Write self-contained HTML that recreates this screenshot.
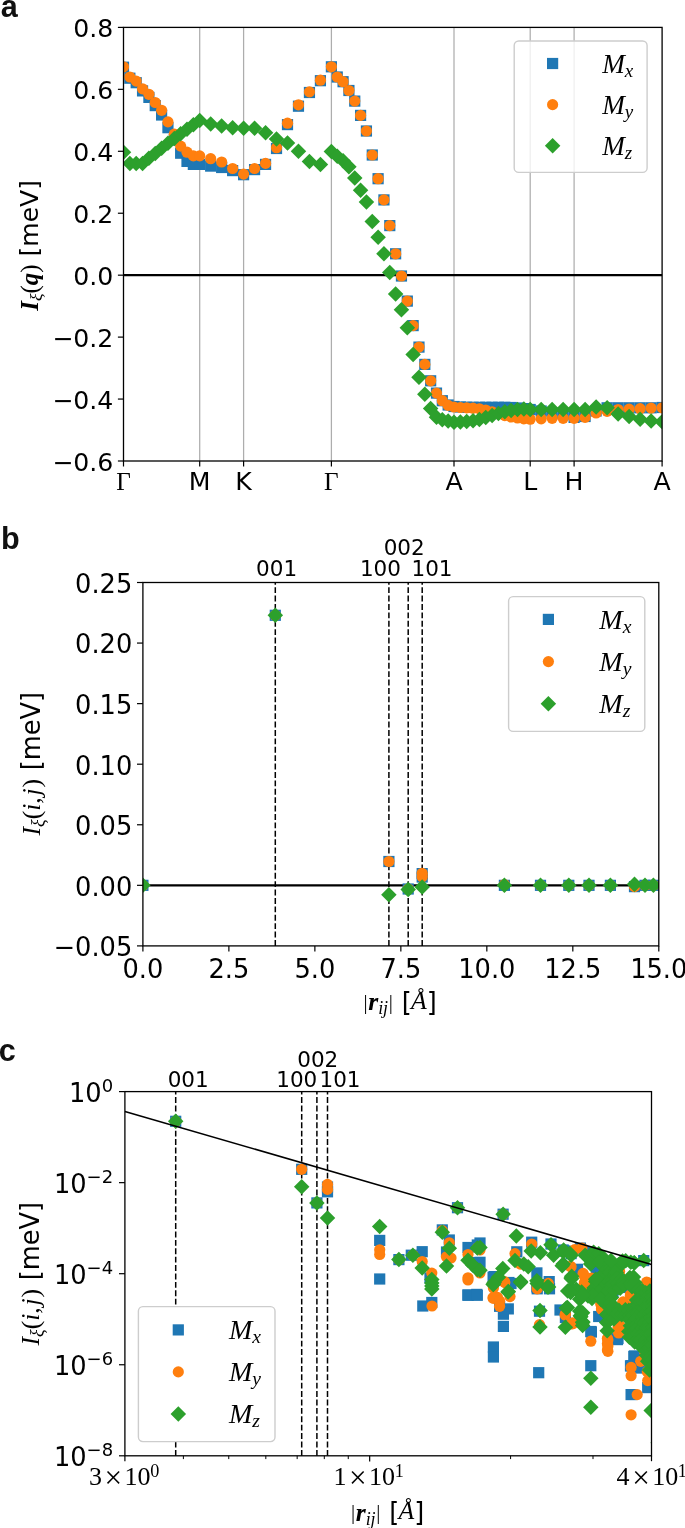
<!DOCTYPE html>
<html lang="en"><head><meta charset="utf-8"><title>Figure</title>
<style>html,body{margin:0;padding:0;background:#fff}svg{display:block}</style>
</head><body>
<svg width="685" height="1528" viewBox="0 0 685 1528">
<rect width="685" height="1528" fill="#fff"/>
<text x="0.8" y="16.8" font-family='"Liberation Sans","DejaVu Sans",sans-serif' font-size="30.6" text-anchor="start" font-weight="bold" fill="#111">a</text>
<text x="1" y="549.3" font-family='"Liberation Sans","DejaVu Sans",sans-serif' font-size="30.6" text-anchor="start" font-weight="bold" fill="#111">b</text>
<text x="-1.3" y="1060.6" font-family='"Liberation Sans","DejaVu Sans",sans-serif' font-size="30.6" text-anchor="start" font-weight="bold" fill="#111">c</text>
<clipPath id="clipA"><rect x="123.5" y="27.4" width="538.6" height="433.6"/></clipPath>
<line x1="199.7" y1="27.4" x2="199.7" y2="461" stroke="#adadad" stroke-width="1.25"/>
<line x1="243.6" y1="27.4" x2="243.6" y2="461" stroke="#adadad" stroke-width="1.25"/>
<line x1="331.4" y1="27.4" x2="331.4" y2="461" stroke="#adadad" stroke-width="1.25"/>
<line x1="454" y1="27.4" x2="454" y2="461" stroke="#adadad" stroke-width="1.25"/>
<line x1="530.2" y1="27.4" x2="530.2" y2="461" stroke="#adadad" stroke-width="1.25"/>
<line x1="574.1" y1="27.4" x2="574.1" y2="461" stroke="#adadad" stroke-width="1.25"/>
<line x1="123.5" y1="275.17" x2="662.1" y2="275.17" stroke="#000" stroke-width="2.1"/>
<g clip-path="url(#clipA)">
<rect x="117.9" y="61.6" width="11.2" height="11.2" fill="#1f77b4"/><rect x="124.25" y="72.6" width="11.2" height="11.2" fill="#1f77b4"/><rect x="130.6" y="77.1" width="11.2" height="11.2" fill="#1f77b4"/><rect x="136.95" y="85.3" width="11.2" height="11.2" fill="#1f77b4"/><rect x="143.3" y="91.8" width="11.2" height="11.2" fill="#1f77b4"/><rect x="149.65" y="100" width="11.2" height="11.2" fill="#1f77b4"/><rect x="156" y="109.4" width="11.2" height="11.2" fill="#1f77b4"/><rect x="162.35" y="122.1" width="11.2" height="11.2" fill="#1f77b4"/><rect x="168.7" y="134.4" width="11.2" height="11.2" fill="#1f77b4"/><rect x="175.05" y="147.6" width="11.2" height="11.2" fill="#1f77b4"/><rect x="181.4" y="155.8" width="11.2" height="11.2" fill="#1f77b4"/><rect x="187.75" y="158.8" width="11.2" height="11.2" fill="#1f77b4"/><rect x="194.1" y="158.8" width="11.2" height="11.2" fill="#1f77b4"/><rect x="205.07" y="160.5" width="11.2" height="11.2" fill="#1f77b4"/><rect x="216.05" y="161.9" width="11.2" height="11.2" fill="#1f77b4"/><rect x="227.03" y="165" width="11.2" height="11.2" fill="#1f77b4"/><rect x="238" y="169.1" width="11.2" height="11.2" fill="#1f77b4"/><rect x="248.97" y="164" width="11.2" height="11.2" fill="#1f77b4"/><rect x="259.95" y="158.8" width="11.2" height="11.2" fill="#1f77b4"/><rect x="270.92" y="142.9" width="11.2" height="11.2" fill="#1f77b4"/><rect x="281.9" y="119" width="11.2" height="11.2" fill="#1f77b4"/><rect x="292.87" y="100.6" width="11.2" height="11.2" fill="#1f77b4"/><rect x="303.85" y="86.9" width="11.2" height="11.2" fill="#1f77b4"/><rect x="314.82" y="75.1" width="11.2" height="11.2" fill="#1f77b4"/><rect x="325.8" y="61.2" width="11.2" height="11.2" fill="#1f77b4"/><rect x="331.64" y="71.4" width="11.2" height="11.2" fill="#1f77b4"/><rect x="337.48" y="76.1" width="11.2" height="11.2" fill="#1f77b4"/><rect x="343.31" y="84.9" width="11.2" height="11.2" fill="#1f77b4"/><rect x="349.15" y="95.5" width="11.2" height="11.2" fill="#1f77b4"/><rect x="354.99" y="109.8" width="11.2" height="11.2" fill="#1f77b4"/><rect x="360.83" y="125.4" width="11.2" height="11.2" fill="#1f77b4"/><rect x="366.67" y="149.4" width="11.2" height="11.2" fill="#1f77b4"/><rect x="372.5" y="173.1" width="11.2" height="11.2" fill="#1f77b4"/><rect x="378.34" y="194.3" width="11.2" height="11.2" fill="#1f77b4"/><rect x="384.18" y="220" width="11.2" height="11.2" fill="#1f77b4"/><rect x="390.02" y="248.2" width="11.2" height="11.2" fill="#1f77b4"/><rect x="395.86" y="270.4" width="11.2" height="11.2" fill="#1f77b4"/><rect x="401.7" y="295.5" width="11.2" height="11.2" fill="#1f77b4"/><rect x="407.53" y="320" width="11.2" height="11.2" fill="#1f77b4"/><rect x="413.37" y="341.5" width="11.2" height="11.2" fill="#1f77b4"/><rect x="419.21" y="358.8" width="11.2" height="11.2" fill="#1f77b4"/><rect x="425.05" y="375.2" width="11.2" height="11.2" fill="#1f77b4"/><rect x="430.89" y="387.5" width="11.2" height="11.2" fill="#1f77b4"/><rect x="436.72" y="395.1" width="11.2" height="11.2" fill="#1f77b4"/><rect x="442.56" y="399.4" width="11.2" height="11.2" fill="#1f77b4"/><rect x="448.4" y="400.9" width="11.2" height="11.2" fill="#1f77b4"/><rect x="454.75" y="401.4" width="11.2" height="11.2" fill="#1f77b4"/><rect x="461.1" y="401.6" width="11.2" height="11.2" fill="#1f77b4"/><rect x="467.45" y="401.7" width="11.2" height="11.2" fill="#1f77b4"/><rect x="473.8" y="401.7" width="11.2" height="11.2" fill="#1f77b4"/><rect x="480.15" y="401.7" width="11.2" height="11.2" fill="#1f77b4"/><rect x="486.5" y="401.7" width="11.2" height="11.2" fill="#1f77b4"/><rect x="492.85" y="401.7" width="11.2" height="11.2" fill="#1f77b4"/><rect x="499.2" y="401.7" width="11.2" height="11.2" fill="#1f77b4"/><rect x="505.55" y="401.9" width="11.2" height="11.2" fill="#1f77b4"/><rect x="511.9" y="402.4" width="11.2" height="11.2" fill="#1f77b4"/><rect x="518.25" y="403" width="11.2" height="11.2" fill="#1f77b4"/><rect x="524.6" y="403.9" width="11.2" height="11.2" fill="#1f77b4"/><rect x="535.58" y="405.4" width="11.2" height="11.2" fill="#1f77b4"/><rect x="546.55" y="407.4" width="11.2" height="11.2" fill="#1f77b4"/><rect x="557.52" y="408.4" width="11.2" height="11.2" fill="#1f77b4"/><rect x="568.5" y="411.8" width="11.2" height="11.2" fill="#1f77b4"/><rect x="579.5" y="410.9" width="11.2" height="11.2" fill="#1f77b4"/><rect x="590.5" y="405.4" width="11.2" height="11.2" fill="#1f77b4"/><rect x="601.5" y="402.2" width="11.2" height="11.2" fill="#1f77b4"/><rect x="612.5" y="402.2" width="11.2" height="11.2" fill="#1f77b4"/><rect x="623.5" y="402.2" width="11.2" height="11.2" fill="#1f77b4"/><rect x="634.5" y="402.2" width="11.2" height="11.2" fill="#1f77b4"/><rect x="645.5" y="402.2" width="11.2" height="11.2" fill="#1f77b4"/><rect x="656.5" y="401.9" width="11.2" height="11.2" fill="#1f77b4"/>
<circle cx="123.5" cy="66.8" r="5.6" fill="#ff7f0e"/><circle cx="129.85" cy="77" r="5.6" fill="#ff7f0e"/><circle cx="136.2" cy="81.1" r="5.6" fill="#ff7f0e"/><circle cx="142.55" cy="88.8" r="5.6" fill="#ff7f0e"/><circle cx="148.9" cy="94.3" r="5.6" fill="#ff7f0e"/><circle cx="155.25" cy="102.5" r="5.6" fill="#ff7f0e"/><circle cx="161.6" cy="110.3" r="5.6" fill="#ff7f0e"/><circle cx="167.95" cy="121.9" r="5.6" fill="#ff7f0e"/><circle cx="174.3" cy="134.2" r="5.6" fill="#ff7f0e"/><circle cx="180.65" cy="146.1" r="5.6" fill="#ff7f0e"/><circle cx="187" cy="152.2" r="5.6" fill="#ff7f0e"/><circle cx="193.35" cy="155.9" r="5.6" fill="#ff7f0e"/><circle cx="199.7" cy="155.9" r="5.6" fill="#ff7f0e"/><circle cx="210.67" cy="158.7" r="5.6" fill="#ff7f0e"/><circle cx="221.65" cy="162" r="5.6" fill="#ff7f0e"/><circle cx="232.62" cy="168.5" r="5.6" fill="#ff7f0e"/><circle cx="243.6" cy="174.1" r="5.6" fill="#ff7f0e"/><circle cx="254.57" cy="168.5" r="5.6" fill="#ff7f0e"/><circle cx="265.55" cy="163.4" r="5.6" fill="#ff7f0e"/><circle cx="276.52" cy="147.7" r="5.6" fill="#ff7f0e"/><circle cx="287.5" cy="123.2" r="5.6" fill="#ff7f0e"/><circle cx="298.47" cy="104.8" r="5.6" fill="#ff7f0e"/><circle cx="309.45" cy="91.9" r="5.6" fill="#ff7f0e"/><circle cx="320.42" cy="80.2" r="5.6" fill="#ff7f0e"/><circle cx="331.4" cy="66.8" r="5.6" fill="#ff7f0e"/><circle cx="337.24" cy="77" r="5.6" fill="#ff7f0e"/><circle cx="343.08" cy="81.7" r="5.6" fill="#ff7f0e"/><circle cx="348.91" cy="90.5" r="5.6" fill="#ff7f0e"/><circle cx="354.75" cy="101.1" r="5.6" fill="#ff7f0e"/><circle cx="360.59" cy="115.4" r="5.6" fill="#ff7f0e"/><circle cx="366.43" cy="131" r="5.6" fill="#ff7f0e"/><circle cx="372.27" cy="155" r="5.6" fill="#ff7f0e"/><circle cx="378.1" cy="178.7" r="5.6" fill="#ff7f0e"/><circle cx="383.94" cy="199.9" r="5.6" fill="#ff7f0e"/><circle cx="389.78" cy="225.6" r="5.6" fill="#ff7f0e"/><circle cx="395.62" cy="253.8" r="5.6" fill="#ff7f0e"/><circle cx="401.46" cy="276" r="5.6" fill="#ff7f0e"/><circle cx="407.3" cy="301.1" r="5.6" fill="#ff7f0e"/><circle cx="413.13" cy="325.6" r="5.6" fill="#ff7f0e"/><circle cx="418.97" cy="347.1" r="5.6" fill="#ff7f0e"/><circle cx="424.81" cy="364.4" r="5.6" fill="#ff7f0e"/><circle cx="430.65" cy="380.8" r="5.6" fill="#ff7f0e"/><circle cx="436.49" cy="393.1" r="5.6" fill="#ff7f0e"/><circle cx="442.32" cy="400.7" r="5.6" fill="#ff7f0e"/><circle cx="448.16" cy="405.4" r="5.6" fill="#ff7f0e"/><circle cx="454" cy="407" r="5.6" fill="#ff7f0e"/><circle cx="460.35" cy="407.5" r="5.6" fill="#ff7f0e"/><circle cx="466.7" cy="407.8" r="5.6" fill="#ff7f0e"/><circle cx="473.05" cy="408.2" r="5.6" fill="#ff7f0e"/><circle cx="479.4" cy="408.8" r="5.6" fill="#ff7f0e"/><circle cx="485.75" cy="410" r="5.6" fill="#ff7f0e"/><circle cx="492.1" cy="411.8" r="5.6" fill="#ff7f0e"/><circle cx="498.45" cy="413.8" r="5.6" fill="#ff7f0e"/><circle cx="504.8" cy="415.6" r="5.6" fill="#ff7f0e"/><circle cx="511.15" cy="417" r="5.6" fill="#ff7f0e"/><circle cx="517.5" cy="418" r="5.6" fill="#ff7f0e"/><circle cx="523.85" cy="418.8" r="5.6" fill="#ff7f0e"/><circle cx="530.2" cy="419.2" r="5.6" fill="#ff7f0e"/><circle cx="541.18" cy="418.8" r="5.6" fill="#ff7f0e"/><circle cx="552.15" cy="418.3" r="5.6" fill="#ff7f0e"/><circle cx="563.12" cy="418.3" r="5.6" fill="#ff7f0e"/><circle cx="574.1" cy="418.3" r="5.6" fill="#ff7f0e"/><circle cx="585.1" cy="417.4" r="5.6" fill="#ff7f0e"/><circle cx="596.1" cy="413" r="5.6" fill="#ff7f0e"/><circle cx="607.1" cy="411.3" r="5.6" fill="#ff7f0e"/><circle cx="618.1" cy="409.5" r="5.6" fill="#ff7f0e"/><circle cx="629.1" cy="409.2" r="5.6" fill="#ff7f0e"/><circle cx="640.1" cy="408.7" r="5.6" fill="#ff7f0e"/><circle cx="651.1" cy="408.1" r="5.6" fill="#ff7f0e"/><circle cx="662.1" cy="407.8" r="5.6" fill="#ff7f0e"/>
<path d="M123.5 144.45l7.75 7.75l-7.75 7.75l-7.75 -7.75z" fill="#2ca02c"/><path d="M129.85 155.65l7.75 7.75l-7.75 7.75l-7.75 -7.75z" fill="#2ca02c"/><path d="M136.2 155.65l7.75 7.75l-7.75 7.75l-7.75 -7.75z" fill="#2ca02c"/><path d="M142.55 155.65l7.75 7.75l-7.75 7.75l-7.75 -7.75z" fill="#2ca02c"/><path d="M148.9 150.45l7.75 7.75l-7.75 7.75l-7.75 -7.75z" fill="#2ca02c"/><path d="M155.25 145.65l7.75 7.75l-7.75 7.75l-7.75 -7.75z" fill="#2ca02c"/><path d="M161.6 140.55l7.75 7.75l-7.75 7.75l-7.75 -7.75z" fill="#2ca02c"/><path d="M167.95 135.45l7.75 7.75l-7.75 7.75l-7.75 -7.75z" fill="#2ca02c"/><path d="M174.3 130.65l7.75 7.75l-7.75 7.75l-7.75 -7.75z" fill="#2ca02c"/><path d="M180.65 126.05l7.75 7.75l-7.75 7.75l-7.75 -7.75z" fill="#2ca02c"/><path d="M187 121.55l7.75 7.75l-7.75 7.75l-7.75 -7.75z" fill="#2ca02c"/><path d="M193.35 117.05l7.75 7.75l-7.75 7.75l-7.75 -7.75z" fill="#2ca02c"/><path d="M199.7 112.75l7.75 7.75l-7.75 7.75l-7.75 -7.75z" fill="#2ca02c"/><path d="M210.67 116.25l7.75 7.75l-7.75 7.75l-7.75 -7.75z" fill="#2ca02c"/><path d="M221.65 118.25l7.75 7.75l-7.75 7.75l-7.75 -7.75z" fill="#2ca02c"/><path d="M232.62 119.95l7.75 7.75l-7.75 7.75l-7.75 -7.75z" fill="#2ca02c"/><path d="M243.6 120.55l7.75 7.75l-7.75 7.75l-7.75 -7.75z" fill="#2ca02c"/><path d="M254.57 120.55l7.75 7.75l-7.75 7.75l-7.75 -7.75z" fill="#2ca02c"/><path d="M265.55 125.05l7.75 7.75l-7.75 7.75l-7.75 -7.75z" fill="#2ca02c"/><path d="M276.52 131.15l7.75 7.75l-7.75 7.75l-7.75 -7.75z" fill="#2ca02c"/><path d="M287.5 135.25l7.75 7.75l-7.75 7.75l-7.75 -7.75z" fill="#2ca02c"/><path d="M298.47 143.45l7.75 7.75l-7.75 7.75l-7.75 -7.75z" fill="#2ca02c"/><path d="M309.45 153.65l7.75 7.75l-7.75 7.75l-7.75 -7.75z" fill="#2ca02c"/><path d="M320.42 156.65l7.75 7.75l-7.75 7.75l-7.75 -7.75z" fill="#2ca02c"/><path d="M331.4 143.85l7.75 7.75l-7.75 7.75l-7.75 -7.75z" fill="#2ca02c"/><path d="M337.24 148.45l7.75 7.75l-7.75 7.75l-7.75 -7.75z" fill="#2ca02c"/><path d="M343.08 152.95l7.75 7.75l-7.75 7.75l-7.75 -7.75z" fill="#2ca02c"/><path d="M348.91 159.05l7.75 7.75l-7.75 7.75l-7.75 -7.75z" fill="#2ca02c"/><path d="M354.75 170.25l7.75 7.75l-7.75 7.75l-7.75 -7.75z" fill="#2ca02c"/><path d="M360.59 182.55l7.75 7.75l-7.75 7.75l-7.75 -7.75z" fill="#2ca02c"/><path d="M366.43 194.15l7.75 7.75l-7.75 7.75l-7.75 -7.75z" fill="#2ca02c"/><path d="M372.27 213.65l7.75 7.75l-7.75 7.75l-7.75 -7.75z" fill="#2ca02c"/><path d="M378.1 229.55l7.75 7.75l-7.75 7.75l-7.75 -7.75z" fill="#2ca02c"/><path d="M383.94 245.95l7.75 7.75l-7.75 7.75l-7.75 -7.75z" fill="#2ca02c"/><path d="M389.78 264.75l7.75 7.75l-7.75 7.75l-7.75 -7.75z" fill="#2ca02c"/><path d="M395.62 286.15l7.75 7.75l-7.75 7.75l-7.75 -7.75z" fill="#2ca02c"/><path d="M401.46 301.95l7.75 7.75l-7.75 7.75l-7.75 -7.75z" fill="#2ca02c"/><path d="M407.3 319.95l7.75 7.75l-7.75 7.75l-7.75 -7.75z" fill="#2ca02c"/><path d="M413.13 346.85l7.75 7.75l-7.75 7.75l-7.75 -7.75z" fill="#2ca02c"/><path d="M418.97 369.55l7.75 7.75l-7.75 7.75l-7.75 -7.75z" fill="#2ca02c"/><path d="M424.81 386.45l7.75 7.75l-7.75 7.75l-7.75 -7.75z" fill="#2ca02c"/><path d="M430.65 400.75l7.75 7.75l-7.75 7.75l-7.75 -7.75z" fill="#2ca02c"/><path d="M436.49 409.55l7.75 7.75l-7.75 7.75l-7.75 -7.75z" fill="#2ca02c"/><path d="M442.32 411.95l7.75 7.75l-7.75 7.75l-7.75 -7.75z" fill="#2ca02c"/><path d="M448.16 413.35l7.75 7.75l-7.75 7.75l-7.75 -7.75z" fill="#2ca02c"/><path d="M454 414.45l7.75 7.75l-7.75 7.75l-7.75 -7.75z" fill="#2ca02c"/><path d="M460.35 414.25l7.75 7.75l-7.75 7.75l-7.75 -7.75z" fill="#2ca02c"/><path d="M466.7 413.85l7.75 7.75l-7.75 7.75l-7.75 -7.75z" fill="#2ca02c"/><path d="M473.05 413.05l7.75 7.75l-7.75 7.75l-7.75 -7.75z" fill="#2ca02c"/><path d="M479.4 411.65l7.75 7.75l-7.75 7.75l-7.75 -7.75z" fill="#2ca02c"/><path d="M485.75 409.85l7.75 7.75l-7.75 7.75l-7.75 -7.75z" fill="#2ca02c"/><path d="M492.1 407.85l7.75 7.75l-7.75 7.75l-7.75 -7.75z" fill="#2ca02c"/><path d="M498.45 405.85l7.75 7.75l-7.75 7.75l-7.75 -7.75z" fill="#2ca02c"/><path d="M504.8 404.05l7.75 7.75l-7.75 7.75l-7.75 -7.75z" fill="#2ca02c"/><path d="M511.15 402.65l7.75 7.75l-7.75 7.75l-7.75 -7.75z" fill="#2ca02c"/><path d="M517.5 401.65l7.75 7.75l-7.75 7.75l-7.75 -7.75z" fill="#2ca02c"/><path d="M523.85 401.25l7.75 7.75l-7.75 7.75l-7.75 -7.75z" fill="#2ca02c"/><path d="M530.2 401.75l7.75 7.75l-7.75 7.75l-7.75 -7.75z" fill="#2ca02c"/><path d="M541.18 401.75l7.75 7.75l-7.75 7.75l-7.75 -7.75z" fill="#2ca02c"/><path d="M552.15 401.75l7.75 7.75l-7.75 7.75l-7.75 -7.75z" fill="#2ca02c"/><path d="M563.12 401.75l7.75 7.75l-7.75 7.75l-7.75 -7.75z" fill="#2ca02c"/><path d="M574.1 401.75l7.75 7.75l-7.75 7.75l-7.75 -7.75z" fill="#2ca02c"/><path d="M585.1 401.75l7.75 7.75l-7.75 7.75l-7.75 -7.75z" fill="#2ca02c"/><path d="M596.1 399.15l7.75 7.75l-7.75 7.75l-7.75 -7.75z" fill="#2ca02c"/><path d="M607.1 400.05l7.75 7.75l-7.75 7.75l-7.75 -7.75z" fill="#2ca02c"/><path d="M618.1 406.15l7.75 7.75l-7.75 7.75l-7.75 -7.75z" fill="#2ca02c"/><path d="M629.1 408.75l7.75 7.75l-7.75 7.75l-7.75 -7.75z" fill="#2ca02c"/><path d="M640.1 411.45l7.75 7.75l-7.75 7.75l-7.75 -7.75z" fill="#2ca02c"/><path d="M651.1 413.15l7.75 7.75l-7.75 7.75l-7.75 -7.75z" fill="#2ca02c"/><path d="M662.1 414.05l7.75 7.75l-7.75 7.75l-7.75 -7.75z" fill="#2ca02c"/>
</g>
<rect x="123.5" y="27.4" width="538.6" height="433.6" fill="none" stroke="#000" stroke-width="1.3"/>
<line x1="117.9" y1="27.4" x2="123.5" y2="27.4" stroke="#000" stroke-width="1.2"/>
<text x="113.3" y="37.2" font-family='"DejaVu Sans","Liberation Sans",sans-serif' font-size="25.2" text-anchor="end" >0.8</text>
<line x1="117.9" y1="89.34" x2="123.5" y2="89.34" stroke="#000" stroke-width="1.2"/>
<text x="113.3" y="99.14" font-family='"DejaVu Sans","Liberation Sans",sans-serif' font-size="25.2" text-anchor="end" >0.6</text>
<line x1="117.9" y1="151.29" x2="123.5" y2="151.29" stroke="#000" stroke-width="1.2"/>
<text x="113.3" y="161.09" font-family='"DejaVu Sans","Liberation Sans",sans-serif' font-size="25.2" text-anchor="end" >0.4</text>
<line x1="117.9" y1="213.23" x2="123.5" y2="213.23" stroke="#000" stroke-width="1.2"/>
<text x="113.3" y="223.03" font-family='"DejaVu Sans","Liberation Sans",sans-serif' font-size="25.2" text-anchor="end" >0.2</text>
<line x1="117.9" y1="275.17" x2="123.5" y2="275.17" stroke="#000" stroke-width="1.2"/>
<text x="113.3" y="284.97" font-family='"DejaVu Sans","Liberation Sans",sans-serif' font-size="25.2" text-anchor="end" >0.0</text>
<line x1="117.9" y1="337.11" x2="123.5" y2="337.11" stroke="#000" stroke-width="1.2"/>
<text x="113.3" y="346.91" font-family='"DejaVu Sans","Liberation Sans",sans-serif' font-size="25.2" text-anchor="end" >−0.2</text>
<line x1="117.9" y1="399.06" x2="123.5" y2="399.06" stroke="#000" stroke-width="1.2"/>
<text x="113.3" y="408.86" font-family='"DejaVu Sans","Liberation Sans",sans-serif' font-size="25.2" text-anchor="end" >−0.4</text>
<line x1="117.9" y1="461" x2="123.5" y2="461" stroke="#000" stroke-width="1.2"/>
<text x="113.3" y="470.8" font-family='"DejaVu Sans","Liberation Sans",sans-serif' font-size="25.2" text-anchor="end" >−0.6</text>
<line x1="123.5" y1="461" x2="123.5" y2="466.5" stroke="#000" stroke-width="1.2"/>
<text x="123.5" y="490" font-family='"Liberation Serif","DejaVu Serif",serif' font-size="25.2" text-anchor="middle" >Γ</text>
<line x1="199.7" y1="461" x2="199.7" y2="466.5" stroke="#000" stroke-width="1.2"/>
<text x="199.7" y="490" font-family='"DejaVu Sans","Liberation Sans",sans-serif' font-size="25.2" text-anchor="middle" >M</text>
<line x1="243.6" y1="461" x2="243.6" y2="466.5" stroke="#000" stroke-width="1.2"/>
<text x="243.6" y="490" font-family='"DejaVu Sans","Liberation Sans",sans-serif' font-size="25.2" text-anchor="middle" >K</text>
<line x1="331.4" y1="461" x2="331.4" y2="466.5" stroke="#000" stroke-width="1.2"/>
<text x="331.4" y="490" font-family='"Liberation Serif","DejaVu Serif",serif' font-size="25.2" text-anchor="middle" >Γ</text>
<line x1="454" y1="461" x2="454" y2="466.5" stroke="#000" stroke-width="1.2"/>
<text x="454" y="490" font-family='"DejaVu Sans","Liberation Sans",sans-serif' font-size="25.2" text-anchor="middle" >A</text>
<line x1="530.2" y1="461" x2="530.2" y2="466.5" stroke="#000" stroke-width="1.2"/>
<text x="530.2" y="490" font-family='"DejaVu Sans","Liberation Sans",sans-serif' font-size="25.2" text-anchor="middle" >L</text>
<line x1="574.1" y1="461" x2="574.1" y2="466.5" stroke="#000" stroke-width="1.2"/>
<text x="574.1" y="490" font-family='"DejaVu Sans","Liberation Sans",sans-serif' font-size="25.2" text-anchor="middle" >H</text>
<line x1="662.1" y1="461" x2="662.1" y2="466.5" stroke="#000" stroke-width="1.2"/>
<text x="662.1" y="490" font-family='"DejaVu Sans","Liberation Sans",sans-serif' font-size="25.2" text-anchor="middle" >A</text>
<g transform="translate(37.5 310.8) rotate(-90)"><text x="0" y="0" font-size="25"><tspan font-family='"Liberation Serif","DejaVu Serif",serif' font-style="italic" font-weight="bold">I</tspan><tspan font-family='"Liberation Serif","DejaVu Serif",serif' font-style="italic" font-size="17.5" dy="4">ξ</tspan><tspan font-family='"Liberation Serif","DejaVu Serif",serif' dy="-4">(</tspan><tspan font-family='"Liberation Serif","DejaVu Serif",serif' font-style="italic" font-weight="bold">q</tspan><tspan font-family='"Liberation Serif","DejaVu Serif",serif'>)</tspan><tspan font-family='"DejaVu Sans","Liberation Sans",sans-serif'> [meV]</tspan></text></g>
<rect x="514.2" y="41" width="132.9" height="131.4" rx="4.5" ry="4.5" fill="#fff" fill-opacity="0.8" stroke="#cdcdcd" stroke-width="1.4"/>
<rect x="547" y="57.9" width="11.2" height="11.2" fill="#1f77b4"/>
<circle cx="552.6" cy="104.65" r="5.6" fill="#ff7f0e"/>
<path d="M552.6 138.05l7.75 7.75l-7.75 7.75l-7.75 -7.75z" fill="#2ca02c"/>
<text x="602.2" y="72.6" font-family='"Liberation Serif","DejaVu Serif",serif' font-style="italic" font-size="27.2">M<tspan dy="4.08" font-size="19.04">x</tspan></text>
<text x="602.2" y="113.75" font-family='"Liberation Serif","DejaVu Serif",serif' font-style="italic" font-size="27.2">M<tspan dy="4.08" font-size="19.04">y</tspan></text>
<text x="602.2" y="154.9" font-family='"Liberation Serif","DejaVu Serif",serif' font-style="italic" font-size="27.2">M<tspan dy="4.08" font-size="19.04">z</tspan></text>
<clipPath id="clipB"><rect x="142.9" y="582.5" width="515.9" height="363.4"/></clipPath>
<line x1="275.3" y1="945.9" x2="275.3" y2="582.5" stroke="#000" stroke-width="1.5" stroke-dasharray="5.9 2.5"/>
<line x1="388.9" y1="945.9" x2="388.9" y2="582.5" stroke="#000" stroke-width="1.5" stroke-dasharray="5.9 2.5"/>
<line x1="408.2" y1="945.9" x2="408.2" y2="582.5" stroke="#000" stroke-width="1.5" stroke-dasharray="5.9 2.5"/>
<line x1="422.2" y1="945.9" x2="422.2" y2="582.5" stroke="#000" stroke-width="1.5" stroke-dasharray="5.9 2.5"/>
<line x1="142.9" y1="885.33" x2="658.8" y2="885.33" stroke="#000" stroke-width="2.1"/>
<g clip-path="url(#clipB)">
<rect x="137.3" y="879.73" width="11.2" height="11.2" fill="#1f77b4"/><rect x="269.7" y="609.7" width="11.2" height="11.2" fill="#1f77b4"/><rect x="383.3" y="855.9" width="11.2" height="11.2" fill="#1f77b4"/><rect x="402.6" y="883.4" width="11.2" height="11.2" fill="#1f77b4"/><rect x="416.6" y="868" width="11.2" height="11.2" fill="#1f77b4"/><rect x="416.6" y="871.4" width="11.2" height="11.2" fill="#1f77b4"/><rect x="498.8" y="879.73" width="11.2" height="11.2" fill="#1f77b4"/><rect x="534.9" y="879.73" width="11.2" height="11.2" fill="#1f77b4"/><rect x="563.2" y="879.73" width="11.2" height="11.2" fill="#1f77b4"/><rect x="583.4" y="879.73" width="11.2" height="11.2" fill="#1f77b4"/><rect x="604.8" y="879.73" width="11.2" height="11.2" fill="#1f77b4"/><rect x="628.9" y="881.03" width="11.2" height="11.2" fill="#1f77b4"/><rect x="639.4" y="879.73" width="11.2" height="11.2" fill="#1f77b4"/><rect x="647.8" y="879.73" width="11.2" height="11.2" fill="#1f77b4"/>
<circle cx="142.9" cy="885.33" r="5.6" fill="#ff7f0e"/><circle cx="275.3" cy="615.3" r="5.6" fill="#ff7f0e"/><circle cx="388.9" cy="861.5" r="5.6" fill="#ff7f0e"/><circle cx="408.2" cy="889" r="5.6" fill="#ff7f0e"/><circle cx="422.2" cy="873.3" r="5.6" fill="#ff7f0e"/><circle cx="422.2" cy="876.8" r="5.6" fill="#ff7f0e"/><circle cx="504.4" cy="884.53" r="5.6" fill="#ff7f0e"/><circle cx="540.5" cy="885.33" r="5.6" fill="#ff7f0e"/><circle cx="568.8" cy="885.33" r="5.6" fill="#ff7f0e"/><circle cx="589" cy="885.33" r="5.6" fill="#ff7f0e"/><circle cx="610.4" cy="885.33" r="5.6" fill="#ff7f0e"/><circle cx="634.5" cy="886.63" r="5.6" fill="#ff7f0e"/><circle cx="645" cy="885.33" r="5.6" fill="#ff7f0e"/><circle cx="653.4" cy="885.33" r="5.6" fill="#ff7f0e"/>
<path d="M142.9 877.58l7.75 7.75l-7.75 7.75l-7.75 -7.75z" fill="#2ca02c"/><path d="M275.3 607.55l7.75 7.75l-7.75 7.75l-7.75 -7.75z" fill="#2ca02c"/><path d="M388.9 886.95l7.75 7.75l-7.75 7.75l-7.75 -7.75z" fill="#2ca02c"/><path d="M408.2 881.65l7.75 7.75l-7.75 7.75l-7.75 -7.75z" fill="#2ca02c"/><path d="M422.2 879.25l7.75 7.75l-7.75 7.75l-7.75 -7.75z" fill="#2ca02c"/><path d="M504.4 877.58l7.75 7.75l-7.75 7.75l-7.75 -7.75z" fill="#2ca02c"/><path d="M540.5 877.58l7.75 7.75l-7.75 7.75l-7.75 -7.75z" fill="#2ca02c"/><path d="M568.8 877.58l7.75 7.75l-7.75 7.75l-7.75 -7.75z" fill="#2ca02c"/><path d="M589 877.58l7.75 7.75l-7.75 7.75l-7.75 -7.75z" fill="#2ca02c"/><path d="M610.4 877.58l7.75 7.75l-7.75 7.75l-7.75 -7.75z" fill="#2ca02c"/><path d="M634.5 876.58l7.75 7.75l-7.75 7.75l-7.75 -7.75z" fill="#2ca02c"/><path d="M645 877.58l7.75 7.75l-7.75 7.75l-7.75 -7.75z" fill="#2ca02c"/><path d="M653.4 877.58l7.75 7.75l-7.75 7.75l-7.75 -7.75z" fill="#2ca02c"/>
</g>
<rect x="142.9" y="582.5" width="515.9" height="363.4" fill="none" stroke="#000" stroke-width="1.3"/>
<line x1="137" y1="582.5" x2="142.9" y2="582.5" stroke="#000" stroke-width="1.2"/>
<text x="132.3" y="592.8" font-family='"DejaVu Sans","Liberation Sans",sans-serif' font-size="25.7" text-anchor="end" >0.25</text>
<line x1="137" y1="643.07" x2="142.9" y2="643.07" stroke="#000" stroke-width="1.2"/>
<text x="132.3" y="653.37" font-family='"DejaVu Sans","Liberation Sans",sans-serif' font-size="25.7" text-anchor="end" >0.20</text>
<line x1="137" y1="703.63" x2="142.9" y2="703.63" stroke="#000" stroke-width="1.2"/>
<text x="132.3" y="713.93" font-family='"DejaVu Sans","Liberation Sans",sans-serif' font-size="25.7" text-anchor="end" >0.15</text>
<line x1="137" y1="764.2" x2="142.9" y2="764.2" stroke="#000" stroke-width="1.2"/>
<text x="132.3" y="774.5" font-family='"DejaVu Sans","Liberation Sans",sans-serif' font-size="25.7" text-anchor="end" >0.10</text>
<line x1="137" y1="824.77" x2="142.9" y2="824.77" stroke="#000" stroke-width="1.2"/>
<text x="132.3" y="835.07" font-family='"DejaVu Sans","Liberation Sans",sans-serif' font-size="25.7" text-anchor="end" >0.05</text>
<line x1="137" y1="885.33" x2="142.9" y2="885.33" stroke="#000" stroke-width="1.2"/>
<text x="132.3" y="895.63" font-family='"DejaVu Sans","Liberation Sans",sans-serif' font-size="25.7" text-anchor="end" >0.00</text>
<line x1="137" y1="945.9" x2="142.9" y2="945.9" stroke="#000" stroke-width="1.2"/>
<text x="132.3" y="956.2" font-family='"DejaVu Sans","Liberation Sans",sans-serif' font-size="25.7" text-anchor="end" >−0.05</text>
<line x1="142.9" y1="945.9" x2="142.9" y2="951.4" stroke="#000" stroke-width="1.2"/>
<text x="142.9" y="977.5" font-family='"DejaVu Sans","Liberation Sans",sans-serif' font-size="25.7" text-anchor="middle" >0.0</text>
<line x1="228.88" y1="945.9" x2="228.88" y2="951.4" stroke="#000" stroke-width="1.2"/>
<text x="228.88" y="977.5" font-family='"DejaVu Sans","Liberation Sans",sans-serif' font-size="25.7" text-anchor="middle" >2.5</text>
<line x1="314.87" y1="945.9" x2="314.87" y2="951.4" stroke="#000" stroke-width="1.2"/>
<text x="314.87" y="977.5" font-family='"DejaVu Sans","Liberation Sans",sans-serif' font-size="25.7" text-anchor="middle" >5.0</text>
<line x1="400.85" y1="945.9" x2="400.85" y2="951.4" stroke="#000" stroke-width="1.2"/>
<text x="400.85" y="977.5" font-family='"DejaVu Sans","Liberation Sans",sans-serif' font-size="25.7" text-anchor="middle" >7.5</text>
<line x1="486.83" y1="945.9" x2="486.83" y2="951.4" stroke="#000" stroke-width="1.2"/>
<text x="486.83" y="977.5" font-family='"DejaVu Sans","Liberation Sans",sans-serif' font-size="25.7" text-anchor="middle" >10.0</text>
<line x1="572.82" y1="945.9" x2="572.82" y2="951.4" stroke="#000" stroke-width="1.2"/>
<text x="572.82" y="977.5" font-family='"DejaVu Sans","Liberation Sans",sans-serif' font-size="25.7" text-anchor="middle" >12.5</text>
<line x1="658.8" y1="945.9" x2="658.8" y2="951.4" stroke="#000" stroke-width="1.2"/>
<text x="658.8" y="977.5" font-family='"DejaVu Sans","Liberation Sans",sans-serif' font-size="25.7" text-anchor="middle" >15.0</text>
<text x="276.6" y="576.4" font-family='"DejaVu Sans","Liberation Sans",sans-serif' font-size="21.5" text-anchor="middle" >001</text>
<text x="380.4" y="576.4" font-family='"DejaVu Sans","Liberation Sans",sans-serif' font-size="21.5" text-anchor="middle" >100</text>
<text x="404.2" y="554.9" font-family='"DejaVu Sans","Liberation Sans",sans-serif' font-size="21.5" text-anchor="middle" >002</text>
<text x="432" y="576.4" font-family='"DejaVu Sans","Liberation Sans",sans-serif' font-size="21.5" text-anchor="middle" >101</text>
<g transform="translate(39.5 835.6) rotate(-90)"><text x="0" y="0" font-size="25.7"><tspan font-family='"Liberation Serif","DejaVu Serif",serif' font-style="italic">I</tspan><tspan font-family='"Liberation Serif","DejaVu Serif",serif' font-style="italic" font-size="17.99" dy="4.11">ξ</tspan><tspan font-family='"Liberation Serif","DejaVu Serif",serif' dy="-4.11">(</tspan><tspan font-family='"Liberation Serif","DejaVu Serif",serif' font-style="italic">i</tspan><tspan font-family='"Liberation Serif","DejaVu Serif",serif'>,</tspan><tspan font-family='"Liberation Serif","DejaVu Serif",serif' font-style="italic" dx="1.6">j</tspan><tspan font-family='"Liberation Serif","DejaVu Serif",serif' dx="1">)</tspan><tspan font-family='"DejaVu Sans","Liberation Sans",sans-serif' dx="0.4"> [meV]</tspan></text></g>
<text x="363.4" y="1010.3" font-size="25.7"><tspan font-family='"Liberation Serif","DejaVu Serif",serif' font-size="20.56" dy="-1.2">|</tspan><tspan font-family='"Liberation Serif","DejaVu Serif",serif' font-style="italic" font-weight="bold" dy="1.2" dx="0.6">r</tspan><tspan font-family='"Liberation Serif","DejaVu Serif",serif' font-style="italic" font-size="17.99" dy="4.11">ij</tspan><tspan font-family='"Liberation Serif","DejaVu Serif",serif' font-size="20.56" dy="-5.31" dx="0.6">|</tspan><tspan font-family='"DejaVu Sans","Liberation Sans",sans-serif' dy="2.0" dx="0.8"> [</tspan><tspan font-family='"Liberation Serif","DejaVu Serif",serif' font-style="italic" dy="-2.2" dx="-0.8">Å</tspan><tspan font-family='"DejaVu Sans","Liberation Sans",sans-serif' dy="2.2">]</tspan></text>
<rect x="508.6" y="596.6" width="136.2" height="134.8" rx="4.5" ry="4.5" fill="#fff" fill-opacity="0.8" stroke="#cdcdcd" stroke-width="1.4"/>
<rect x="542.8" y="613.8" width="11.2" height="11.2" fill="#1f77b4"/>
<circle cx="548.4" cy="661.6" r="5.6" fill="#ff7f0e"/>
<path d="M548.4 696.05l7.75 7.75l-7.75 7.75l-7.75 -7.75z" fill="#2ca02c"/>
<text x="599.3" y="628.6" font-family='"Liberation Serif","DejaVu Serif",serif' font-style="italic" font-size="28">M<tspan dy="4.2" font-size="19.6">x</tspan></text>
<text x="599.3" y="670.8" font-family='"Liberation Serif","DejaVu Serif",serif' font-style="italic" font-size="28">M<tspan dy="4.2" font-size="19.6">y</tspan></text>
<text x="599.3" y="713" font-family='"Liberation Serif","DejaVu Serif",serif' font-style="italic" font-size="28">M<tspan dy="4.2" font-size="19.6">z</tspan></text>
<clipPath id="clipC"><rect x="124.9" y="1091.6" width="526.6" height="364.2"/></clipPath>
<line x1="175.7" y1="1455.8" x2="175.7" y2="1091.6" stroke="#000" stroke-width="1.5" stroke-dasharray="5.9 2.5"/>
<line x1="301.7" y1="1455.8" x2="301.7" y2="1091.6" stroke="#000" stroke-width="1.5" stroke-dasharray="5.9 2.5"/>
<line x1="316.9" y1="1455.8" x2="316.9" y2="1091.6" stroke="#000" stroke-width="1.5" stroke-dasharray="5.9 2.5"/>
<line x1="327.5" y1="1455.8" x2="327.5" y2="1091.6" stroke="#000" stroke-width="1.5" stroke-dasharray="5.9 2.5"/>
<g clip-path="url(#clipC)">
<rect x="626.8" y="1328.9" width="11.2" height="11.2" fill="#1f77b4"/><rect x="634.6" y="1296.6" width="11.2" height="11.2" fill="#1f77b4"/><rect x="644.6" y="1339.1" width="11.2" height="11.2" fill="#1f77b4"/><rect x="623.7" y="1306.2" width="11.2" height="11.2" fill="#1f77b4"/><rect x="624.2" y="1276.1" width="11.2" height="11.2" fill="#1f77b4"/><rect x="636.7" y="1303.9" width="11.2" height="11.2" fill="#1f77b4"/><rect x="645.3" y="1353.1" width="11.2" height="11.2" fill="#1f77b4"/><rect x="637" y="1312" width="11.2" height="11.2" fill="#1f77b4"/><rect x="620.4" y="1275.1" width="11.2" height="11.2" fill="#1f77b4"/><rect x="633.1" y="1303.4" width="11.2" height="11.2" fill="#1f77b4"/><rect x="629.5" y="1307" width="11.2" height="11.2" fill="#1f77b4"/><rect x="642.1" y="1341.3" width="11.2" height="11.2" fill="#1f77b4"/><rect x="627.9" y="1306" width="11.2" height="11.2" fill="#1f77b4"/><rect x="614.6" y="1277.4" width="11.2" height="11.2" fill="#1f77b4"/><rect x="635.4" y="1327.3" width="11.2" height="11.2" fill="#1f77b4"/><rect x="609.3" y="1260" width="11.2" height="11.2" fill="#1f77b4"/><rect x="638" y="1313.1" width="11.2" height="11.2" fill="#1f77b4"/><rect x="623" y="1275.3" width="11.2" height="11.2" fill="#1f77b4"/><rect x="638" y="1291.7" width="11.2" height="11.2" fill="#1f77b4"/><rect x="631.9" y="1336" width="11.2" height="11.2" fill="#1f77b4"/><rect x="635.5" y="1334" width="11.2" height="11.2" fill="#1f77b4"/><rect x="610.2" y="1310" width="11.2" height="11.2" fill="#1f77b4"/><rect x="633.1" y="1282.5" width="11.2" height="11.2" fill="#1f77b4"/><rect x="609.6" y="1272.1" width="11.2" height="11.2" fill="#1f77b4"/><rect x="634.7" y="1314.6" width="11.2" height="11.2" fill="#1f77b4"/><rect x="620.4" y="1308.1" width="11.2" height="11.2" fill="#1f77b4"/><rect x="634.1" y="1304.2" width="11.2" height="11.2" fill="#1f77b4"/><rect x="642.2" y="1347" width="11.2" height="11.2" fill="#1f77b4"/><rect x="642" y="1301.3" width="11.2" height="11.2" fill="#1f77b4"/><rect x="637.7" y="1286" width="11.2" height="11.2" fill="#1f77b4"/><rect x="642.9" y="1343.8" width="11.2" height="11.2" fill="#1f77b4"/><rect x="616.1" y="1279.4" width="11.2" height="11.2" fill="#1f77b4"/><rect x="620.7" y="1281.9" width="11.2" height="11.2" fill="#1f77b4"/><rect x="637.5" y="1305.6" width="11.2" height="11.2" fill="#1f77b4"/><rect x="639" y="1309.2" width="11.2" height="11.2" fill="#1f77b4"/><rect x="613.3" y="1304.9" width="11.2" height="11.2" fill="#1f77b4"/><rect x="640.8" y="1286.3" width="11.2" height="11.2" fill="#1f77b4"/><rect x="607.3" y="1286.1" width="11.2" height="11.2" fill="#1f77b4"/><rect x="627.6" y="1301" width="11.2" height="11.2" fill="#1f77b4"/><rect x="644.1" y="1323" width="11.2" height="11.2" fill="#1f77b4"/><rect x="170.1" y="1115.7" width="11.2" height="11.2" fill="#1f77b4"/><rect x="296.1" y="1163.7" width="11.2" height="11.2" fill="#1f77b4"/><rect x="311.3" y="1197.3" width="11.2" height="11.2" fill="#1f77b4"/><rect x="321.9" y="1186.2" width="11.2" height="11.2" fill="#1f77b4"/><rect x="321.9" y="1181.4" width="11.2" height="11.2" fill="#1f77b4"/><rect x="374.1" y="1234.8" width="11.2" height="11.2" fill="#1f77b4"/><rect x="374.1" y="1273.4" width="11.2" height="11.2" fill="#1f77b4"/><rect x="393.3" y="1254" width="11.2" height="11.2" fill="#1f77b4"/><rect x="405.7" y="1249.6" width="11.2" height="11.2" fill="#1f77b4"/><rect x="416.6" y="1246.1" width="11.2" height="11.2" fill="#1f77b4"/><rect x="424.4" y="1272.4" width="11.2" height="11.2" fill="#1f77b4"/><rect x="417.2" y="1300.4" width="11.2" height="11.2" fill="#1f77b4"/><rect x="426.2" y="1296.9" width="11.2" height="11.2" fill="#1f77b4"/><rect x="436.7" y="1224.3" width="11.2" height="11.2" fill="#1f77b4"/><rect x="440.9" y="1246.4" width="11.2" height="11.2" fill="#1f77b4"/><rect x="443.7" y="1234.4" width="11.2" height="11.2" fill="#1f77b4"/><rect x="451.9" y="1202.1" width="11.2" height="11.2" fill="#1f77b4"/><rect x="462.4" y="1241.9" width="11.2" height="11.2" fill="#1f77b4"/><rect x="462.4" y="1289.7" width="11.2" height="11.2" fill="#1f77b4"/><rect x="471.7" y="1239.4" width="11.2" height="11.2" fill="#1f77b4"/><rect x="471.7" y="1257" width="11.2" height="11.2" fill="#1f77b4"/><rect x="471.7" y="1289.7" width="11.2" height="11.2" fill="#1f77b4"/><rect x="488.6" y="1271" width="11.2" height="11.2" fill="#1f77b4"/><rect x="497.5" y="1208.6" width="11.2" height="11.2" fill="#1f77b4"/><rect x="526.1" y="1236.6" width="11.2" height="11.2" fill="#1f77b4"/><rect x="545.4" y="1238.4" width="11.2" height="11.2" fill="#1f77b4"/><rect x="557.6" y="1244.4" width="11.2" height="11.2" fill="#1f77b4"/><rect x="565.5" y="1248" width="11.2" height="11.2" fill="#1f77b4"/><rect x="579.5" y="1246.2" width="11.2" height="11.2" fill="#1f77b4"/><rect x="511.2" y="1246.2" width="11.2" height="11.2" fill="#1f77b4"/><rect x="487.5" y="1271.6" width="11.2" height="11.2" fill="#1f77b4"/><rect x="503.3" y="1276.9" width="11.2" height="11.2" fill="#1f77b4"/><rect x="531.3" y="1267.3" width="11.2" height="11.2" fill="#1f77b4"/><rect x="531.3" y="1281.3" width="11.2" height="11.2" fill="#1f77b4"/><rect x="543.6" y="1276" width="11.2" height="11.2" fill="#1f77b4"/><rect x="474.4" y="1237.4" width="11.2" height="11.2" fill="#1f77b4"/><rect x="474.4" y="1256.7" width="11.2" height="11.2" fill="#1f77b4"/><rect x="462.4" y="1289.3" width="11.2" height="11.2" fill="#1f77b4"/><rect x="471.2" y="1288.8" width="11.2" height="11.2" fill="#1f77b4"/><rect x="494" y="1300.7" width="11.2" height="11.2" fill="#1f77b4"/><rect x="502.7" y="1303.3" width="11.2" height="11.2" fill="#1f77b4"/><rect x="497.8" y="1308.6" width="11.2" height="11.2" fill="#1f77b4"/><rect x="497.8" y="1320.8" width="11.2" height="11.2" fill="#1f77b4"/><rect x="487.8" y="1341.4" width="11.2" height="11.2" fill="#1f77b4"/><rect x="487.8" y="1351.4" width="11.2" height="11.2" fill="#1f77b4"/><rect x="533.1" y="1367.1" width="11.2" height="11.2" fill="#1f77b4"/><rect x="533.9" y="1305.6" width="11.2" height="11.2" fill="#1f77b4"/><rect x="531.6" y="1283.2" width="11.2" height="11.2" fill="#1f77b4"/><rect x="543.9" y="1283.2" width="11.2" height="11.2" fill="#1f77b4"/><rect x="505.4" y="1277.9" width="11.2" height="11.2" fill="#1f77b4"/><rect x="585.2" y="1325.9" width="11.2" height="11.2" fill="#1f77b4"/><rect x="585.2" y="1360.1" width="11.2" height="11.2" fill="#1f77b4"/><rect x="612.4" y="1332.9" width="11.2" height="11.2" fill="#1f77b4"/><rect x="629" y="1350.4" width="11.2" height="11.2" fill="#1f77b4"/><rect x="625.5" y="1360.1" width="11.2" height="11.2" fill="#1f77b4"/><rect x="633.4" y="1361.9" width="11.2" height="11.2" fill="#1f77b4"/><rect x="642.1" y="1382" width="11.2" height="11.2" fill="#1f77b4"/><rect x="625.5" y="1389" width="11.2" height="11.2" fill="#1f77b4"/><rect x="559.8" y="1311.9" width="11.2" height="11.2" fill="#1f77b4"/><rect x="559.4" y="1245.4" width="11.2" height="11.2" fill="#1f77b4"/><rect x="574.8" y="1242.5" width="11.2" height="11.2" fill="#1f77b4"/><rect x="571.9" y="1263.7" width="11.2" height="11.2" fill="#1f77b4"/><rect x="590.9" y="1265.2" width="11.2" height="11.2" fill="#1f77b4"/><rect x="554.4" y="1304.4" width="11.2" height="11.2" fill="#1f77b4"/><rect x="582.5" y="1283.2" width="11.2" height="11.2" fill="#1f77b4"/><rect x="593.1" y="1310.9" width="11.2" height="11.2" fill="#1f77b4"/><rect x="585.8" y="1326.4" width="11.2" height="11.2" fill="#1f77b4"/><rect x="611.8" y="1334" width="11.2" height="11.2" fill="#1f77b4"/><rect x="628.2" y="1350.8" width="11.2" height="11.2" fill="#1f77b4"/><rect x="624.9" y="1360.3" width="11.2" height="11.2" fill="#1f77b4"/><rect x="633.7" y="1362.4" width="11.2" height="11.2" fill="#1f77b4"/><rect x="638.1" y="1255" width="11.2" height="11.2" fill="#1f77b4"/><rect x="609.7" y="1333.3" width="11.2" height="11.2" fill="#1f77b4"/><rect x="542" y="1279" width="11.2" height="11.2" fill="#1f77b4"/>
<circle cx="644.5" cy="1303.1" r="5.6" fill="#ff7f0e"/><circle cx="627.7" cy="1312.3" r="5.6" fill="#ff7f0e"/><circle cx="612.7" cy="1271.4" r="5.6" fill="#ff7f0e"/><circle cx="638.6" cy="1336.3" r="5.6" fill="#ff7f0e"/><circle cx="631.7" cy="1320.6" r="5.6" fill="#ff7f0e"/><circle cx="631.6" cy="1315.1" r="5.6" fill="#ff7f0e"/><circle cx="633.5" cy="1303.2" r="5.6" fill="#ff7f0e"/><circle cx="619.2" cy="1273.7" r="5.6" fill="#ff7f0e"/><circle cx="644.8" cy="1351.9" r="5.6" fill="#ff7f0e"/><circle cx="630" cy="1319.8" r="5.6" fill="#ff7f0e"/><circle cx="639.3" cy="1331.5" r="5.6" fill="#ff7f0e"/><circle cx="640.8" cy="1298.4" r="5.6" fill="#ff7f0e"/><circle cx="619.6" cy="1271.3" r="5.6" fill="#ff7f0e"/><circle cx="646.8" cy="1338.9" r="5.6" fill="#ff7f0e"/><circle cx="639.5" cy="1332.8" r="5.6" fill="#ff7f0e"/><circle cx="635.4" cy="1303.2" r="5.6" fill="#ff7f0e"/><circle cx="650.3" cy="1344" r="5.6" fill="#ff7f0e"/><circle cx="641" cy="1328.2" r="5.6" fill="#ff7f0e"/><circle cx="643.8" cy="1301.1" r="5.6" fill="#ff7f0e"/><circle cx="647" cy="1346" r="5.6" fill="#ff7f0e"/><circle cx="639.1" cy="1325.4" r="5.6" fill="#ff7f0e"/><circle cx="641.8" cy="1299.4" r="5.6" fill="#ff7f0e"/><circle cx="612.4" cy="1281.7" r="5.6" fill="#ff7f0e"/><circle cx="636.9" cy="1313.1" r="5.6" fill="#ff7f0e"/><circle cx="637.7" cy="1309.4" r="5.6" fill="#ff7f0e"/><circle cx="651" cy="1329.7" r="5.6" fill="#ff7f0e"/><circle cx="639.3" cy="1325.1" r="5.6" fill="#ff7f0e"/><circle cx="636" cy="1321.5" r="5.6" fill="#ff7f0e"/><circle cx="614" cy="1271.2" r="5.6" fill="#ff7f0e"/><circle cx="649.7" cy="1321.3" r="5.6" fill="#ff7f0e"/><circle cx="650.8" cy="1329" r="5.6" fill="#ff7f0e"/><circle cx="635.3" cy="1322.7" r="5.6" fill="#ff7f0e"/><circle cx="648.9" cy="1307" r="5.6" fill="#ff7f0e"/><circle cx="632.5" cy="1309" r="5.6" fill="#ff7f0e"/><circle cx="626.3" cy="1282.6" r="5.6" fill="#ff7f0e"/><circle cx="637.5" cy="1308.6" r="5.6" fill="#ff7f0e"/><circle cx="623.1" cy="1311.2" r="5.6" fill="#ff7f0e"/><circle cx="623.5" cy="1262.2" r="5.6" fill="#ff7f0e"/><circle cx="650.6" cy="1357.4" r="5.6" fill="#ff7f0e"/><circle cx="650" cy="1291.5" r="5.6" fill="#ff7f0e"/><circle cx="175.7" cy="1121.3" r="5.6" fill="#ff7f0e"/><circle cx="301.7" cy="1169.3" r="5.6" fill="#ff7f0e"/><circle cx="316.9" cy="1202.9" r="5.6" fill="#ff7f0e"/><circle cx="327.5" cy="1184.4" r="5.6" fill="#ff7f0e"/><circle cx="327.5" cy="1189.4" r="5.6" fill="#ff7f0e"/><circle cx="379.7" cy="1249.8" r="5.6" fill="#ff7f0e"/><circle cx="379.7" cy="1254.5" r="5.6" fill="#ff7f0e"/><circle cx="398.9" cy="1259.6" r="5.6" fill="#ff7f0e"/><circle cx="412.9" cy="1255.2" r="5.6" fill="#ff7f0e"/><circle cx="422.2" cy="1261.5" r="5.6" fill="#ff7f0e"/><circle cx="431.8" cy="1273.1" r="5.6" fill="#ff7f0e"/><circle cx="432" cy="1306" r="5.6" fill="#ff7f0e"/><circle cx="442.3" cy="1230.6" r="5.6" fill="#ff7f0e"/><circle cx="446.5" cy="1256.8" r="5.6" fill="#ff7f0e"/><circle cx="449.3" cy="1242.8" r="5.6" fill="#ff7f0e"/><circle cx="451" cy="1258" r="5.6" fill="#ff7f0e"/><circle cx="457.5" cy="1207.7" r="5.6" fill="#ff7f0e"/><circle cx="468" cy="1254.5" r="5.6" fill="#ff7f0e"/><circle cx="468" cy="1277.8" r="5.6" fill="#ff7f0e"/><circle cx="477.3" cy="1247.9" r="5.6" fill="#ff7f0e"/><circle cx="480" cy="1273" r="5.6" fill="#ff7f0e"/><circle cx="493" cy="1285" r="5.6" fill="#ff7f0e"/><circle cx="493" cy="1297.7" r="5.6" fill="#ff7f0e"/><circle cx="503.1" cy="1214.2" r="5.6" fill="#ff7f0e"/><circle cx="531.7" cy="1244" r="5.6" fill="#ff7f0e"/><circle cx="571.1" cy="1266.7" r="5.6" fill="#ff7f0e"/><circle cx="515" cy="1253.6" r="5.6" fill="#ff7f0e"/><circle cx="520.3" cy="1264.1" r="5.6" fill="#ff7f0e"/><circle cx="504.5" cy="1281.6" r="5.6" fill="#ff7f0e"/><circle cx="497.5" cy="1297.4" r="5.6" fill="#ff7f0e"/><circle cx="536.9" cy="1285.1" r="5.6" fill="#ff7f0e"/><circle cx="548.3" cy="1283.4" r="5.6" fill="#ff7f0e"/><circle cx="480" cy="1250" r="5.6" fill="#ff7f0e"/><circle cx="583.4" cy="1274.6" r="5.6" fill="#ff7f0e"/><circle cx="585.1" cy="1281.6" r="5.6" fill="#ff7f0e"/><circle cx="468" cy="1280" r="5.6" fill="#ff7f0e"/><circle cx="493.4" cy="1288" r="5.6" fill="#ff7f0e"/><circle cx="504.8" cy="1282.6" r="5.6" fill="#ff7f0e"/><circle cx="510" cy="1296.6" r="5.6" fill="#ff7f0e"/><circle cx="493.4" cy="1298.4" r="5.6" fill="#ff7f0e"/><circle cx="499.6" cy="1301" r="5.6" fill="#ff7f0e"/><circle cx="499.6" cy="1306.3" r="5.6" fill="#ff7f0e"/><circle cx="539.5" cy="1324.6" r="5.6" fill="#ff7f0e"/><circle cx="537.2" cy="1288.8" r="5.6" fill="#ff7f0e"/><circle cx="590.8" cy="1341.2" r="5.6" fill="#ff7f0e"/><circle cx="607.4" cy="1338.5" r="5.6" fill="#ff7f0e"/><circle cx="607.4" cy="1343.8" r="5.6" fill="#ff7f0e"/><circle cx="607.4" cy="1350" r="5.6" fill="#ff7f0e"/><circle cx="640.7" cy="1361.3" r="5.6" fill="#ff7f0e"/><circle cx="631.1" cy="1367.4" r="5.6" fill="#ff7f0e"/><circle cx="631.1" cy="1375.7" r="5.6" fill="#ff7f0e"/><circle cx="647.7" cy="1380.6" r="5.6" fill="#ff7f0e"/><circle cx="637.2" cy="1394.6" r="5.6" fill="#ff7f0e"/><circle cx="631.1" cy="1414.8" r="5.6" fill="#ff7f0e"/><circle cx="565.4" cy="1314" r="5.6" fill="#ff7f0e"/><circle cx="572.4" cy="1322.8" r="5.6" fill="#ff7f0e"/><circle cx="583.1" cy="1273.4" r="5.6" fill="#ff7f0e"/><circle cx="584.5" cy="1282.6" r="5.6" fill="#ff7f0e"/><circle cx="601.5" cy="1308.8" r="5.6" fill="#ff7f0e"/><circle cx="622.6" cy="1302.9" r="5.6" fill="#ff7f0e"/><circle cx="630.4" cy="1295" r="5.6" fill="#ff7f0e"/><circle cx="618.6" cy="1327.2" r="5.6" fill="#ff7f0e"/><circle cx="618.6" cy="1333" r="5.6" fill="#ff7f0e"/><circle cx="647.5" cy="1282.6" r="5.6" fill="#ff7f0e"/><circle cx="619.7" cy="1328" r="5.6" fill="#ff7f0e"/><circle cx="570.2" cy="1266.4" r="5.6" fill="#ff7f0e"/><circle cx="581.9" cy="1248.1" r="5.6" fill="#ff7f0e"/><circle cx="574.6" cy="1249.6" r="5.6" fill="#ff7f0e"/><circle cx="591.4" cy="1278" r="5.6" fill="#ff7f0e"/><circle cx="584.1" cy="1285.1" r="5.6" fill="#ff7f0e"/><circle cx="590.7" cy="1283.6" r="5.6" fill="#ff7f0e"/><circle cx="601.6" cy="1309.2" r="5.6" fill="#ff7f0e"/><circle cx="600.7" cy="1304" r="5.6" fill="#ff7f0e"/><circle cx="565.1" cy="1315" r="5.6" fill="#ff7f0e"/><circle cx="571.7" cy="1323.8" r="5.6" fill="#ff7f0e"/><circle cx="572.7" cy="1323.7" r="5.6" fill="#ff7f0e"/><circle cx="607.9" cy="1340" r="5.6" fill="#ff7f0e"/><circle cx="607.9" cy="1346" r="5.6" fill="#ff7f0e"/><circle cx="607.9" cy="1351.3" r="5.6" fill="#ff7f0e"/><circle cx="618.9" cy="1331.6" r="5.6" fill="#ff7f0e"/><circle cx="618.1" cy="1327.2" r="5.6" fill="#ff7f0e"/><circle cx="646.6" cy="1354.2" r="5.6" fill="#ff7f0e"/><circle cx="647.3" cy="1371.7" r="5.6" fill="#ff7f0e"/><circle cx="646.6" cy="1282.2" r="5.6" fill="#ff7f0e"/><circle cx="630.5" cy="1295.3" r="5.6" fill="#ff7f0e"/><circle cx="623.2" cy="1301.9" r="5.6" fill="#ff7f0e"/><circle cx="619.6" cy="1325.3" r="5.6" fill="#ff7f0e"/>
<path d="M175.7 1113.55l7.75 7.75l-7.75 7.75l-7.75 -7.75z" fill="#2ca02c"/><path d="M301.7 1178.95l7.75 7.75l-7.75 7.75l-7.75 -7.75z" fill="#2ca02c"/><path d="M316.9 1195.15l7.75 7.75l-7.75 7.75l-7.75 -7.75z" fill="#2ca02c"/><path d="M327.5 1210.25l7.75 7.75l-7.75 7.75l-7.75 -7.75z" fill="#2ca02c"/><path d="M379.7 1218.65l7.75 7.75l-7.75 7.75l-7.75 -7.75z" fill="#2ca02c"/><path d="M398.9 1251.85l7.75 7.75l-7.75 7.75l-7.75 -7.75z" fill="#2ca02c"/><path d="M412.9 1247.45l7.75 7.75l-7.75 7.75l-7.75 -7.75z" fill="#2ca02c"/><path d="M422.2 1260.25l7.75 7.75l-7.75 7.75l-7.75 -7.75z" fill="#2ca02c"/><path d="M431.8 1271.75l7.75 7.75l-7.75 7.75l-7.75 -7.75z" fill="#2ca02c"/><path d="M431.8 1275.25l7.75 7.75l-7.75 7.75l-7.75 -7.75z" fill="#2ca02c"/><path d="M431.8 1278.25l7.75 7.75l-7.75 7.75l-7.75 -7.75z" fill="#2ca02c"/><path d="M431.8 1281.25l7.75 7.75l-7.75 7.75l-7.75 -7.75z" fill="#2ca02c"/><path d="M442.3 1224.55l7.75 7.75l-7.75 7.75l-7.75 -7.75z" fill="#2ca02c"/><path d="M446.5 1258.35l7.75 7.75l-7.75 7.75l-7.75 -7.75z" fill="#2ca02c"/><path d="M449.3 1240.45l7.75 7.75l-7.75 7.75l-7.75 -7.75z" fill="#2ca02c"/><path d="M457.5 1199.95l7.75 7.75l-7.75 7.75l-7.75 -7.75z" fill="#2ca02c"/><path d="M468 1252.55l7.75 7.75l-7.75 7.75l-7.75 -7.75z" fill="#2ca02c"/><path d="M477.3 1240.15l7.75 7.75l-7.75 7.75l-7.75 -7.75z" fill="#2ca02c"/><path d="M477.3 1261.85l7.75 7.75l-7.75 7.75l-7.75 -7.75z" fill="#2ca02c"/><path d="M472.7 1257.25l7.75 7.75l-7.75 7.75l-7.75 -7.75z" fill="#2ca02c"/><path d="M494.2 1274.75l7.75 7.75l-7.75 7.75l-7.75 -7.75z" fill="#2ca02c"/><path d="M503.1 1206.45l7.75 7.75l-7.75 7.75l-7.75 -7.75z" fill="#2ca02c"/><path d="M516.3 1228.35l7.75 7.75l-7.75 7.75l-7.75 -7.75z" fill="#2ca02c"/><path d="M531.2 1243.25l7.75 7.75l-7.75 7.75l-7.75 -7.75z" fill="#2ca02c"/><path d="M540.4 1244.95l7.75 7.75l-7.75 7.75l-7.75 -7.75z" fill="#2ca02c"/><path d="M551 1237.05l7.75 7.75l-7.75 7.75l-7.75 -7.75z" fill="#2ca02c"/><path d="M553.6 1247.55l7.75 7.75l-7.75 7.75l-7.75 -7.75z" fill="#2ca02c"/><path d="M563.2 1244.05l7.75 7.75l-7.75 7.75l-7.75 -7.75z" fill="#2ca02c"/><path d="M563.2 1256.25l7.75 7.75l-7.75 7.75l-7.75 -7.75z" fill="#2ca02c"/><path d="M571.1 1247.55l7.75 7.75l-7.75 7.75l-7.75 -7.75z" fill="#2ca02c"/><path d="M585.1 1247.55l7.75 7.75l-7.75 7.75l-7.75 -7.75z" fill="#2ca02c"/><path d="M592.1 1245.85l7.75 7.75l-7.75 7.75l-7.75 -7.75z" fill="#2ca02c"/><path d="M592.1 1254.55l7.75 7.75l-7.75 7.75l-7.75 -7.75z" fill="#2ca02c"/><path d="M515 1252.85l7.75 7.75l-7.75 7.75l-7.75 -7.75z" fill="#2ca02c"/><path d="M523.8 1256.35l7.75 7.75l-7.75 7.75l-7.75 -7.75z" fill="#2ca02c"/><path d="M528.2 1258.95l7.75 7.75l-7.75 7.75l-7.75 -7.75z" fill="#2ca02c"/><path d="M502.8 1260.75l7.75 7.75l-7.75 7.75l-7.75 -7.75z" fill="#2ca02c"/><path d="M498.4 1269.45l7.75 7.75l-7.75 7.75l-7.75 -7.75z" fill="#2ca02c"/><path d="M493.1 1276.45l7.75 7.75l-7.75 7.75l-7.75 -7.75z" fill="#2ca02c"/><path d="M508 1284.35l7.75 7.75l-7.75 7.75l-7.75 -7.75z" fill="#2ca02c"/><path d="M520.6 1273.85l7.75 7.75l-7.75 7.75l-7.75 -7.75z" fill="#2ca02c"/><path d="M536.9 1272.95l7.75 7.75l-7.75 7.75l-7.75 -7.75z" fill="#2ca02c"/><path d="M547.4 1279.15l7.75 7.75l-7.75 7.75l-7.75 -7.75z" fill="#2ca02c"/><path d="M480 1239.65l7.75 7.75l-7.75 7.75l-7.75 -7.75z" fill="#2ca02c"/><path d="M480 1262.45l7.75 7.75l-7.75 7.75l-7.75 -7.75z" fill="#2ca02c"/><path d="M571.1 1270.35l7.75 7.75l-7.75 7.75l-7.75 -7.75z" fill="#2ca02c"/><path d="M571.1 1280.85l7.75 7.75l-7.75 7.75l-7.75 -7.75z" fill="#2ca02c"/><path d="M581.6 1284.35l7.75 7.75l-7.75 7.75l-7.75 -7.75z" fill="#2ca02c"/><path d="M595.6 1273.85l7.75 7.75l-7.75 7.75l-7.75 -7.75z" fill="#2ca02c"/><path d="M493.4 1276.65l7.75 7.75l-7.75 7.75l-7.75 -7.75z" fill="#2ca02c"/><path d="M508.3 1283.65l7.75 7.75l-7.75 7.75l-7.75 -7.75z" fill="#2ca02c"/><path d="M540 1302.85l7.75 7.75l-7.75 7.75l-7.75 -7.75z" fill="#2ca02c"/><path d="M540 1319.35l7.75 7.75l-7.75 7.75l-7.75 -7.75z" fill="#2ca02c"/><path d="M537.2 1275.75l7.75 7.75l-7.75 7.75l-7.75 -7.75z" fill="#2ca02c"/><path d="M548.6 1279.25l7.75 7.75l-7.75 7.75l-7.75 -7.75z" fill="#2ca02c"/><path d="M520.6 1274.85l7.75 7.75l-7.75 7.75l-7.75 -7.75z" fill="#2ca02c"/><path d="M590.8 1370.55l7.75 7.75l-7.75 7.75l-7.75 -7.75z" fill="#2ca02c"/><path d="M590.8 1399.45l7.75 7.75l-7.75 7.75l-7.75 -7.75z" fill="#2ca02c"/><path d="M651.2 1402.65l7.75 7.75l-7.75 7.75l-7.75 -7.75z" fill="#2ca02c"/><path d="M647.7 1353.55l7.75 7.75l-7.75 7.75l-7.75 -7.75z" fill="#2ca02c"/><path d="M649.5 1362.25l7.75 7.75l-7.75 7.75l-7.75 -7.75z" fill="#2ca02c"/><path d="M658.2 1434.95l7.75 7.75l-7.75 7.75l-7.75 -7.75z" fill="#2ca02c"/><path d="M565.4 1319.45l7.75 7.75l-7.75 7.75l-7.75 -7.75z" fill="#2ca02c"/><path d="M566.3 1300.15l7.75 7.75l-7.75 7.75l-7.75 -7.75z" fill="#2ca02c"/><path d="M580.3 1308.05l7.75 7.75l-7.75 7.75l-7.75 -7.75z" fill="#2ca02c"/><path d="M582.9 1314.15l7.75 7.75l-7.75 7.75l-7.75 -7.75z" fill="#2ca02c"/><path d="M563.6 1242.25l7.75 7.75l-7.75 7.75l-7.75 -7.75z" fill="#2ca02c"/><path d="M569.8 1245.85l7.75 7.75l-7.75 7.75l-7.75 -7.75z" fill="#2ca02c"/><path d="M562.2 1257.95l7.75 7.75l-7.75 7.75l-7.75 -7.75z" fill="#2ca02c"/><path d="M590.7 1256.35l7.75 7.75l-7.75 7.75l-7.75 -7.75z" fill="#2ca02c"/><path d="M593.6 1244.45l7.75 7.75l-7.75 7.75l-7.75 -7.75z" fill="#2ca02c"/><path d="M598.7 1245.95l7.75 7.75l-7.75 7.75l-7.75 -7.75z" fill="#2ca02c"/><path d="M571.7 1268.55l7.75 7.75l-7.75 7.75l-7.75 -7.75z" fill="#2ca02c"/><path d="M596.6 1272.85l7.75 7.75l-7.75 7.75l-7.75 -7.75z" fill="#2ca02c"/><path d="M603.8 1265.65l7.75 7.75l-7.75 7.75l-7.75 -7.75z" fill="#2ca02c"/><path d="M567.7 1283.25l7.75 7.75l-7.75 7.75l-7.75 -7.75z" fill="#2ca02c"/><path d="M571.5 1271.05l7.75 7.75l-7.75 7.75l-7.75 -7.75z" fill="#2ca02c"/><path d="M579.7 1291.45l7.75 7.75l-7.75 7.75l-7.75 -7.75z" fill="#2ca02c"/><path d="M576.2 1281.55l7.75 7.75l-7.75 7.75l-7.75 -7.75z" fill="#2ca02c"/><path d="M579.7 1303.15l7.75 7.75l-7.75 7.75l-7.75 -7.75z" fill="#2ca02c"/><path d="M580.9 1308.95l7.75 7.75l-7.75 7.75l-7.75 -7.75z" fill="#2ca02c"/><path d="M582.6 1314.85l7.75 7.75l-7.75 7.75l-7.75 -7.75z" fill="#2ca02c"/><path d="M592 1290.85l7.75 7.75l-7.75 7.75l-7.75 -7.75z" fill="#2ca02c"/><path d="M594 1280.25l7.75 7.75l-7.75 7.75l-7.75 -7.75z" fill="#2ca02c"/><path d="M567.4 1299.65l7.75 7.75l-7.75 7.75l-7.75 -7.75z" fill="#2ca02c"/><path d="M582.6 1305.05l7.75 7.75l-7.75 7.75l-7.75 -7.75z" fill="#2ca02c"/><path d="M582.6 1317.85l7.75 7.75l-7.75 7.75l-7.75 -7.75z" fill="#2ca02c"/><path d="M604.2 1250.95l7.75 7.75l-7.75 7.75l-7.75 -7.75z" fill="#2ca02c"/><path d="M600.5 1283.25l7.75 7.75l-7.75 7.75l-7.75 -7.75z" fill="#2ca02c"/><path d="M588 1288.25l7.75 7.75l-7.75 7.75l-7.75 -7.75z" fill="#2ca02c"/><path d="M606.6 1297.25l7.75 7.75l-7.75 7.75l-7.75 -7.75z" fill="#2ca02c"/><path d="M606.6 1306.65l7.75 7.75l-7.75 7.75l-7.75 -7.75z" fill="#2ca02c"/><path d="M606.6 1314.85l7.75 7.75l-7.75 7.75l-7.75 -7.75z" fill="#2ca02c"/><path d="M607.2 1322.95l7.75 7.75l-7.75 7.75l-7.75 -7.75z" fill="#2ca02c"/><path d="M606 1268.95l7.75 7.75l-7.75 7.75l-7.75 -7.75z" fill="#2ca02c"/><path d="M603.5 1251.85l7.75 7.75l-7.75 7.75l-7.75 -7.75z" fill="#2ca02c"/><path d="M595.6 1271.55l7.75 7.75l-7.75 7.75l-7.75 -7.75z" fill="#2ca02c"/><path d="M593 1287.25l7.75 7.75l-7.75 7.75l-7.75 -7.75z" fill="#2ca02c"/><path d="M582.5 1287.25l7.75 7.75l-7.75 7.75l-7.75 -7.75z" fill="#2ca02c"/><path d="M570.6 1284.75l7.75 7.75l-7.75 7.75l-7.75 -7.75z" fill="#2ca02c"/><path d="M603 1258.25l7.75 7.75l-7.75 7.75l-7.75 -7.75z" fill="#2ca02c"/><path d="M606.5 1276.25l7.75 7.75l-7.75 7.75l-7.75 -7.75z" fill="#2ca02c"/><path d="M607 1286.25l7.75 7.75l-7.75 7.75l-7.75 -7.75z" fill="#2ca02c"/><path d="M601 1291.75l7.75 7.75l-7.75 7.75l-7.75 -7.75z" fill="#2ca02c"/><path d="M599 1254.25l7.75 7.75l-7.75 7.75l-7.75 -7.75z" fill="#2ca02c"/><path d="M609.9 1255.75l7.75 7.75l-7.75 7.75l-7.75 -7.75z" fill="#2ca02c"/><path d="M610.3 1260.75l7.75 7.75l-7.75 7.75l-7.75 -7.75z" fill="#2ca02c"/><path d="M610 1264.75l7.75 7.75l-7.75 7.75l-7.75 -7.75z" fill="#2ca02c"/><path d="M610.9 1270.15l7.75 7.75l-7.75 7.75l-7.75 -7.75z" fill="#2ca02c"/><path d="M609.4 1273.95l7.75 7.75l-7.75 7.75l-7.75 -7.75z" fill="#2ca02c"/><path d="M611 1277.75l7.75 7.75l-7.75 7.75l-7.75 -7.75z" fill="#2ca02c"/><path d="M608.5 1283.35l7.75 7.75l-7.75 7.75l-7.75 -7.75z" fill="#2ca02c"/><path d="M611.5 1289.75l7.75 7.75l-7.75 7.75l-7.75 -7.75z" fill="#2ca02c"/><path d="M610.4 1295.25l7.75 7.75l-7.75 7.75l-7.75 -7.75z" fill="#2ca02c"/><path d="M609.2 1308.35l7.75 7.75l-7.75 7.75l-7.75 -7.75z" fill="#2ca02c"/><path d="M609.9 1311.95l7.75 7.75l-7.75 7.75l-7.75 -7.75z" fill="#2ca02c"/><path d="M615.7 1262.15l7.75 7.75l-7.75 7.75l-7.75 -7.75z" fill="#2ca02c"/><path d="M614.8 1268.15l7.75 7.75l-7.75 7.75l-7.75 -7.75z" fill="#2ca02c"/><path d="M613.2 1272.55l7.75 7.75l-7.75 7.75l-7.75 -7.75z" fill="#2ca02c"/><path d="M612.7 1276.95l7.75 7.75l-7.75 7.75l-7.75 -7.75z" fill="#2ca02c"/><path d="M613.8 1282.75l7.75 7.75l-7.75 7.75l-7.75 -7.75z" fill="#2ca02c"/><path d="M613.2 1298.65l7.75 7.75l-7.75 7.75l-7.75 -7.75z" fill="#2ca02c"/><path d="M614 1304.95l7.75 7.75l-7.75 7.75l-7.75 -7.75z" fill="#2ca02c"/><path d="M613.8 1311.35l7.75 7.75l-7.75 7.75l-7.75 -7.75z" fill="#2ca02c"/><path d="M618.5 1256.95l7.75 7.75l-7.75 7.75l-7.75 -7.75z" fill="#2ca02c"/><path d="M616.9 1260.85l7.75 7.75l-7.75 7.75l-7.75 -7.75z" fill="#2ca02c"/><path d="M616.3 1264.65l7.75 7.75l-7.75 7.75l-7.75 -7.75z" fill="#2ca02c"/><path d="M616.6 1270.55l7.75 7.75l-7.75 7.75l-7.75 -7.75z" fill="#2ca02c"/><path d="M617.5 1275.65l7.75 7.75l-7.75 7.75l-7.75 -7.75z" fill="#2ca02c"/><path d="M618.4 1279.75l7.75 7.75l-7.75 7.75l-7.75 -7.75z" fill="#2ca02c"/><path d="M618.9 1302.45l7.75 7.75l-7.75 7.75l-7.75 -7.75z" fill="#2ca02c"/><path d="M617.3 1306.55l7.75 7.75l-7.75 7.75l-7.75 -7.75z" fill="#2ca02c"/><path d="M621.6 1256.05l7.75 7.75l-7.75 7.75l-7.75 -7.75z" fill="#2ca02c"/><path d="M621.3 1271.25l7.75 7.75l-7.75 7.75l-7.75 -7.75z" fill="#2ca02c"/><path d="M622.5 1276.45l7.75 7.75l-7.75 7.75l-7.75 -7.75z" fill="#2ca02c"/><path d="M620.2 1280.55l7.75 7.75l-7.75 7.75l-7.75 -7.75z" fill="#2ca02c"/><path d="M621.7 1306.95l7.75 7.75l-7.75 7.75l-7.75 -7.75z" fill="#2ca02c"/><path d="M625.7 1252.95l7.75 7.75l-7.75 7.75l-7.75 -7.75z" fill="#2ca02c"/><path d="M624 1273.45l7.75 7.75l-7.75 7.75l-7.75 -7.75z" fill="#2ca02c"/><path d="M624.2 1276.95l7.75 7.75l-7.75 7.75l-7.75 -7.75z" fill="#2ca02c"/><path d="M625.4 1302.05l7.75 7.75l-7.75 7.75l-7.75 -7.75z" fill="#2ca02c"/><path d="M625.2 1307.65l7.75 7.75l-7.75 7.75l-7.75 -7.75z" fill="#2ca02c"/><path d="M630.8 1254.55l7.75 7.75l-7.75 7.75l-7.75 -7.75z" fill="#2ca02c"/><path d="M629.8 1269.75l7.75 7.75l-7.75 7.75l-7.75 -7.75z" fill="#2ca02c"/><path d="M630.5 1275.65l7.75 7.75l-7.75 7.75l-7.75 -7.75z" fill="#2ca02c"/><path d="M628.8 1302.55l7.75 7.75l-7.75 7.75l-7.75 -7.75z" fill="#2ca02c"/><path d="M629.5 1307.85l7.75 7.75l-7.75 7.75l-7.75 -7.75z" fill="#2ca02c"/><path d="M629.6 1311.55l7.75 7.75l-7.75 7.75l-7.75 -7.75z" fill="#2ca02c"/><path d="M630.4 1318.05l7.75 7.75l-7.75 7.75l-7.75 -7.75z" fill="#2ca02c"/><path d="M628.8 1323.75l7.75 7.75l-7.75 7.75l-7.75 -7.75z" fill="#2ca02c"/><path d="M629.4 1329.45l7.75 7.75l-7.75 7.75l-7.75 -7.75z" fill="#2ca02c"/><path d="M634.3 1255.15l7.75 7.75l-7.75 7.75l-7.75 -7.75z" fill="#2ca02c"/><path d="M633.5 1269.25l7.75 7.75l-7.75 7.75l-7.75 -7.75z" fill="#2ca02c"/><path d="M634.9 1274.65l7.75 7.75l-7.75 7.75l-7.75 -7.75z" fill="#2ca02c"/><path d="M632 1278.95l7.75 7.75l-7.75 7.75l-7.75 -7.75z" fill="#2ca02c"/><path d="M634.8 1298.45l7.75 7.75l-7.75 7.75l-7.75 -7.75z" fill="#2ca02c"/><path d="M634.1 1302.95l7.75 7.75l-7.75 7.75l-7.75 -7.75z" fill="#2ca02c"/><path d="M633.3 1307.05l7.75 7.75l-7.75 7.75l-7.75 -7.75z" fill="#2ca02c"/><path d="M634.9 1312.95l7.75 7.75l-7.75 7.75l-7.75 -7.75z" fill="#2ca02c"/><path d="M633.2 1319.05l7.75 7.75l-7.75 7.75l-7.75 -7.75z" fill="#2ca02c"/><path d="M633 1324.35l7.75 7.75l-7.75 7.75l-7.75 -7.75z" fill="#2ca02c"/><path d="M633.5 1328.25l7.75 7.75l-7.75 7.75l-7.75 -7.75z" fill="#2ca02c"/><path d="M634.7 1334.25l7.75 7.75l-7.75 7.75l-7.75 -7.75z" fill="#2ca02c"/><path d="M637.9 1282.35l7.75 7.75l-7.75 7.75l-7.75 -7.75z" fill="#2ca02c"/><path d="M636.6 1292.15l7.75 7.75l-7.75 7.75l-7.75 -7.75z" fill="#2ca02c"/><path d="M638.3 1297.75l7.75 7.75l-7.75 7.75l-7.75 -7.75z" fill="#2ca02c"/><path d="M639 1302.25l7.75 7.75l-7.75 7.75l-7.75 -7.75z" fill="#2ca02c"/><path d="M636.9 1305.75l7.75 7.75l-7.75 7.75l-7.75 -7.75z" fill="#2ca02c"/><path d="M636.6 1310.65l7.75 7.75l-7.75 7.75l-7.75 -7.75z" fill="#2ca02c"/><path d="M637.2 1316.65l7.75 7.75l-7.75 7.75l-7.75 -7.75z" fill="#2ca02c"/><path d="M636.6 1320.55l7.75 7.75l-7.75 7.75l-7.75 -7.75z" fill="#2ca02c"/><path d="M637.9 1325.95l7.75 7.75l-7.75 7.75l-7.75 -7.75z" fill="#2ca02c"/><path d="M638.6 1331.35l7.75 7.75l-7.75 7.75l-7.75 -7.75z" fill="#2ca02c"/><path d="M639.5 1337.25l7.75 7.75l-7.75 7.75l-7.75 -7.75z" fill="#2ca02c"/><path d="M642.4 1283.05l7.75 7.75l-7.75 7.75l-7.75 -7.75z" fill="#2ca02c"/><path d="M642.5 1287.75l7.75 7.75l-7.75 7.75l-7.75 -7.75z" fill="#2ca02c"/><path d="M640.2 1293.95l7.75 7.75l-7.75 7.75l-7.75 -7.75z" fill="#2ca02c"/><path d="M642.3 1300.25l7.75 7.75l-7.75 7.75l-7.75 -7.75z" fill="#2ca02c"/><path d="M641.4 1304.15l7.75 7.75l-7.75 7.75l-7.75 -7.75z" fill="#2ca02c"/><path d="M642.9 1309.55l7.75 7.75l-7.75 7.75l-7.75 -7.75z" fill="#2ca02c"/><path d="M641.8 1314.15l7.75 7.75l-7.75 7.75l-7.75 -7.75z" fill="#2ca02c"/><path d="M642.5 1320.35l7.75 7.75l-7.75 7.75l-7.75 -7.75z" fill="#2ca02c"/><path d="M641.4 1326.65l7.75 7.75l-7.75 7.75l-7.75 -7.75z" fill="#2ca02c"/><path d="M640.6 1332.15l7.75 7.75l-7.75 7.75l-7.75 -7.75z" fill="#2ca02c"/><path d="M642.6 1337.75l7.75 7.75l-7.75 7.75l-7.75 -7.75z" fill="#2ca02c"/><path d="M645.6 1284.95l7.75 7.75l-7.75 7.75l-7.75 -7.75z" fill="#2ca02c"/><path d="M646.6 1290.05l7.75 7.75l-7.75 7.75l-7.75 -7.75z" fill="#2ca02c"/><path d="M644.2 1295.05l7.75 7.75l-7.75 7.75l-7.75 -7.75z" fill="#2ca02c"/><path d="M644.4 1300.95l7.75 7.75l-7.75 7.75l-7.75 -7.75z" fill="#2ca02c"/><path d="M644.7 1306.85l7.75 7.75l-7.75 7.75l-7.75 -7.75z" fill="#2ca02c"/><path d="M646.7 1311.35l7.75 7.75l-7.75 7.75l-7.75 -7.75z" fill="#2ca02c"/><path d="M644.6 1315.25l7.75 7.75l-7.75 7.75l-7.75 -7.75z" fill="#2ca02c"/><path d="M646.5 1320.35l7.75 7.75l-7.75 7.75l-7.75 -7.75z" fill="#2ca02c"/><path d="M646.4 1326.35l7.75 7.75l-7.75 7.75l-7.75 -7.75z" fill="#2ca02c"/><path d="M645.7 1332.75l7.75 7.75l-7.75 7.75l-7.75 -7.75z" fill="#2ca02c"/><path d="M644.4 1339.05l7.75 7.75l-7.75 7.75l-7.75 -7.75z" fill="#2ca02c"/><path d="M645.8 1343.25l7.75 7.75l-7.75 7.75l-7.75 -7.75z" fill="#2ca02c"/><path d="M646.5 1347.55l7.75 7.75l-7.75 7.75l-7.75 -7.75z" fill="#2ca02c"/><path d="M649.8 1283.15l7.75 7.75l-7.75 7.75l-7.75 -7.75z" fill="#2ca02c"/><path d="M648.7 1288.35l7.75 7.75l-7.75 7.75l-7.75 -7.75z" fill="#2ca02c"/><path d="M649.7 1293.45l7.75 7.75l-7.75 7.75l-7.75 -7.75z" fill="#2ca02c"/><path d="M648.2 1298.75l7.75 7.75l-7.75 7.75l-7.75 -7.75z" fill="#2ca02c"/><path d="M649.7 1305.15l7.75 7.75l-7.75 7.75l-7.75 -7.75z" fill="#2ca02c"/><path d="M650.7 1309.85l7.75 7.75l-7.75 7.75l-7.75 -7.75z" fill="#2ca02c"/><path d="M649.7 1315.05l7.75 7.75l-7.75 7.75l-7.75 -7.75z" fill="#2ca02c"/><path d="M648.3 1320.65l7.75 7.75l-7.75 7.75l-7.75 -7.75z" fill="#2ca02c"/><path d="M649.4 1325.75l7.75 7.75l-7.75 7.75l-7.75 -7.75z" fill="#2ca02c"/><path d="M651 1332.15l7.75 7.75l-7.75 7.75l-7.75 -7.75z" fill="#2ca02c"/><path d="M649.6 1336.45l7.75 7.75l-7.75 7.75l-7.75 -7.75z" fill="#2ca02c"/><path d="M649.5 1340.35l7.75 7.75l-7.75 7.75l-7.75 -7.75z" fill="#2ca02c"/><path d="M651 1346.25l7.75 7.75l-7.75 7.75l-7.75 -7.75z" fill="#2ca02c"/><path d="M649.1 1351.15l7.75 7.75l-7.75 7.75l-7.75 -7.75z" fill="#2ca02c"/><path d="M650.1 1355.25l7.75 7.75l-7.75 7.75l-7.75 -7.75z" fill="#2ca02c"/><path d="M653.8 1280.95l7.75 7.75l-7.75 7.75l-7.75 -7.75z" fill="#2ca02c"/><path d="M653.1 1284.85l7.75 7.75l-7.75 7.75l-7.75 -7.75z" fill="#2ca02c"/><path d="M652.1 1289.05l7.75 7.75l-7.75 7.75l-7.75 -7.75z" fill="#2ca02c"/><path d="M652.9 1294.15l7.75 7.75l-7.75 7.75l-7.75 -7.75z" fill="#2ca02c"/><path d="M652.8 1298.75l7.75 7.75l-7.75 7.75l-7.75 -7.75z" fill="#2ca02c"/><path d="M652 1303.85l7.75 7.75l-7.75 7.75l-7.75 -7.75z" fill="#2ca02c"/><path d="M653.5 1307.95l7.75 7.75l-7.75 7.75l-7.75 -7.75z" fill="#2ca02c"/><path d="M653.2 1313.35l7.75 7.75l-7.75 7.75l-7.75 -7.75z" fill="#2ca02c"/><path d="M653.4 1319.45l7.75 7.75l-7.75 7.75l-7.75 -7.75z" fill="#2ca02c"/><path d="M652.2 1325.55l7.75 7.75l-7.75 7.75l-7.75 -7.75z" fill="#2ca02c"/><path d="M654.1 1331.25l7.75 7.75l-7.75 7.75l-7.75 -7.75z" fill="#2ca02c"/><path d="M652.5 1337.45l7.75 7.75l-7.75 7.75l-7.75 -7.75z" fill="#2ca02c"/><path d="M654.4 1341.85l7.75 7.75l-7.75 7.75l-7.75 -7.75z" fill="#2ca02c"/><path d="M654.7 1346.05l7.75 7.75l-7.75 7.75l-7.75 -7.75z" fill="#2ca02c"/><path d="M651.9 1352.25l7.75 7.75l-7.75 7.75l-7.75 -7.75z" fill="#2ca02c"/><path d="M653.8 1356.45l7.75 7.75l-7.75 7.75l-7.75 -7.75z" fill="#2ca02c"/><path d="M622.5 1253.25l7.75 7.75l-7.75 7.75l-7.75 -7.75z" fill="#2ca02c"/><path d="M634.2 1255.05l7.75 7.75l-7.75 7.75l-7.75 -7.75z" fill="#2ca02c"/><path d="M643.7 1252.85l7.75 7.75l-7.75 7.75l-7.75 -7.75z" fill="#2ca02c"/><path d="M611 1252.75l7.75 7.75l-7.75 7.75l-7.75 -7.75z" fill="#2ca02c"/>
</g>
<line x1="124.9" y1="1111.4" x2="651.5" y2="1264.4" stroke="#000" stroke-width="1.6"/>
<rect x="124.9" y="1091.6" width="526.6" height="364.2" fill="none" stroke="#000" stroke-width="1.3"/>
<line x1="119" y1="1091.6" x2="124.9" y2="1091.6" stroke="#000" stroke-width="1.2"/>
<text x="113.1" y="1101.7" font-family='"DejaVu Sans","Liberation Sans",sans-serif' font-size="25.7" text-anchor="end">10<tspan dy="-9.77" font-size="17.99">0</tspan></text>
<line x1="119" y1="1182.65" x2="124.9" y2="1182.65" stroke="#000" stroke-width="1.2"/>
<text x="113.1" y="1192.75" font-family='"DejaVu Sans","Liberation Sans",sans-serif' font-size="25.7" text-anchor="end">10<tspan dy="-9.77" font-size="17.99">−2</tspan></text>
<line x1="119" y1="1273.7" x2="124.9" y2="1273.7" stroke="#000" stroke-width="1.2"/>
<text x="113.1" y="1283.8" font-family='"DejaVu Sans","Liberation Sans",sans-serif' font-size="25.7" text-anchor="end">10<tspan dy="-9.77" font-size="17.99">−4</tspan></text>
<line x1="119" y1="1364.75" x2="124.9" y2="1364.75" stroke="#000" stroke-width="1.2"/>
<text x="113.1" y="1374.85" font-family='"DejaVu Sans","Liberation Sans",sans-serif' font-size="25.7" text-anchor="end">10<tspan dy="-9.77" font-size="17.99">−6</tspan></text>
<line x1="119" y1="1455.8" x2="124.9" y2="1455.8" stroke="#000" stroke-width="1.2"/>
<text x="113.1" y="1465.9" font-family='"DejaVu Sans","Liberation Sans",sans-serif' font-size="25.7" text-anchor="end">10<tspan dy="-9.77" font-size="17.99">−8</tspan></text>
<line x1="124.9" y1="1455.8" x2="124.9" y2="1461.2" stroke="#000" stroke-width="1.2"/>
<line x1="183.39" y1="1455.8" x2="183.39" y2="1459.1" stroke="#000" stroke-width="1.0"/>
<line x1="228.75" y1="1455.8" x2="228.75" y2="1459.1" stroke="#000" stroke-width="1.0"/>
<line x1="265.82" y1="1455.8" x2="265.82" y2="1459.1" stroke="#000" stroke-width="1.0"/>
<line x1="297.16" y1="1455.8" x2="297.16" y2="1459.1" stroke="#000" stroke-width="1.0"/>
<line x1="324.3" y1="1455.8" x2="324.3" y2="1459.1" stroke="#000" stroke-width="1.0"/>
<line x1="348.25" y1="1455.8" x2="348.25" y2="1459.1" stroke="#000" stroke-width="1.0"/>
<line x1="510.58" y1="1455.8" x2="510.58" y2="1459.1" stroke="#000" stroke-width="1.0"/>
<line x1="593.01" y1="1455.8" x2="593.01" y2="1459.1" stroke="#000" stroke-width="1.0"/>
<line x1="651.5" y1="1455.8" x2="651.5" y2="1461.2" stroke="#000" stroke-width="1.2"/>
<line x1="369.67" y1="1455.8" x2="369.67" y2="1461.4" stroke="#000" stroke-width="1.2"/>
<text x="102" y="1484.9" font-family='"Liberation Serif","DejaVu Serif",serif' font-size="26" text-anchor="end">3</text>
<text x="113.4" y="1487.6" font-family='"Liberation Serif","DejaVu Serif",serif' font-size="31.2" text-anchor="middle">×</text>
<text x="124.6" y="1484.9" font-family='"Liberation Serif","DejaVu Serif",serif' font-size="26">10<tspan dx="-0.4" dy="-8.06" font-size="18.2">0</tspan></text>
<text x="346.47" y="1484.9" font-family='"Liberation Serif","DejaVu Serif",serif' font-size="26" text-anchor="end">1</text>
<text x="357.87" y="1487.6" font-family='"Liberation Serif","DejaVu Serif",serif' font-size="31.2" text-anchor="middle">×</text>
<text x="369.07" y="1484.9" font-family='"Liberation Serif","DejaVu Serif",serif' font-size="26">10<tspan dx="-0.4" dy="-8.06" font-size="18.2">1</tspan></text>
<text x="629.6" y="1484.9" font-family='"Liberation Serif","DejaVu Serif",serif' font-size="26" text-anchor="end">4</text>
<text x="641" y="1487.6" font-family='"Liberation Serif","DejaVu Serif",serif' font-size="31.2" text-anchor="middle">×</text>
<text x="652.2" y="1484.9" font-family='"Liberation Serif","DejaVu Serif",serif' font-size="26">10<tspan dx="-0.4" dy="-8.06" font-size="18.2">1</tspan></text>
<text x="188.2" y="1086.5" font-family='"DejaVu Sans","Liberation Sans",sans-serif' font-size="21.5" text-anchor="middle" >001</text>
<text x="296.8" y="1086.5" font-family='"DejaVu Sans","Liberation Sans",sans-serif' font-size="21.5" text-anchor="middle" >100</text>
<text x="317.8" y="1067.2" font-family='"DejaVu Sans","Liberation Sans",sans-serif' font-size="21.5" text-anchor="middle" >002</text>
<text x="340" y="1086.5" font-family='"DejaVu Sans","Liberation Sans",sans-serif' font-size="21.5" text-anchor="middle" >101</text>
<g transform="translate(39.1 1345.6) rotate(-90)"><text x="0" y="0" font-size="25.7"><tspan font-family='"Liberation Serif","DejaVu Serif",serif' font-style="italic">I</tspan><tspan font-family='"Liberation Serif","DejaVu Serif",serif' font-style="italic" font-size="17.99" dy="4.11">ξ</tspan><tspan font-family='"Liberation Serif","DejaVu Serif",serif' dy="-4.11">(</tspan><tspan font-family='"Liberation Serif","DejaVu Serif",serif' font-style="italic">i</tspan><tspan font-family='"Liberation Serif","DejaVu Serif",serif'>,</tspan><tspan font-family='"Liberation Serif","DejaVu Serif",serif' font-style="italic" dx="1.6">j</tspan><tspan font-family='"Liberation Serif","DejaVu Serif",serif' dx="1">)</tspan><tspan font-family='"DejaVu Sans","Liberation Sans",sans-serif' dx="0.4"> [meV]</tspan></text></g>
<text x="350.9" y="1520.5" font-size="25.7"><tspan font-family='"Liberation Serif","DejaVu Serif",serif' font-size="20.56" dy="-1.2">|</tspan><tspan font-family='"Liberation Serif","DejaVu Serif",serif' font-style="italic" font-weight="bold" dy="1.2" dx="0.6">r</tspan><tspan font-family='"Liberation Serif","DejaVu Serif",serif' font-style="italic" font-size="17.99" dy="4.11">ij</tspan><tspan font-family='"Liberation Serif","DejaVu Serif",serif' font-size="20.56" dy="-5.31" dx="0.6">|</tspan><tspan font-family='"DejaVu Sans","Liberation Sans",sans-serif' dy="2.0" dx="0.8"> [</tspan><tspan font-family='"Liberation Serif","DejaVu Serif",serif' font-style="italic" dy="-2.2" dx="-0.8">Å</tspan><tspan font-family='"DejaVu Sans","Liberation Sans",sans-serif' dy="2.2">]</tspan></text>
<rect x="138.4" y="1306.6" width="136.6" height="135" rx="4.5" ry="4.5" fill="#fff" fill-opacity="1" stroke="#cdcdcd" stroke-width="1.4"/>
<rect x="172.7" y="1324.3" width="11.2" height="11.2" fill="#1f77b4"/>
<circle cx="178.3" cy="1371.9" r="5.6" fill="#ff7f0e"/>
<path d="M178.3 1406.15l7.75 7.75l-7.75 7.75l-7.75 -7.75z" fill="#2ca02c"/>
<text x="229" y="1338.6" font-family='"Liberation Serif","DejaVu Serif",serif' font-style="italic" font-size="28">M<tspan dy="4.2" font-size="19.6">x</tspan></text>
<text x="229" y="1380.6" font-family='"Liberation Serif","DejaVu Serif",serif' font-style="italic" font-size="28">M<tspan dy="4.2" font-size="19.6">y</tspan></text>
<text x="229" y="1422.6" font-family='"Liberation Serif","DejaVu Serif",serif' font-style="italic" font-size="28">M<tspan dy="4.2" font-size="19.6">z</tspan></text>
</svg>
</body></html>
